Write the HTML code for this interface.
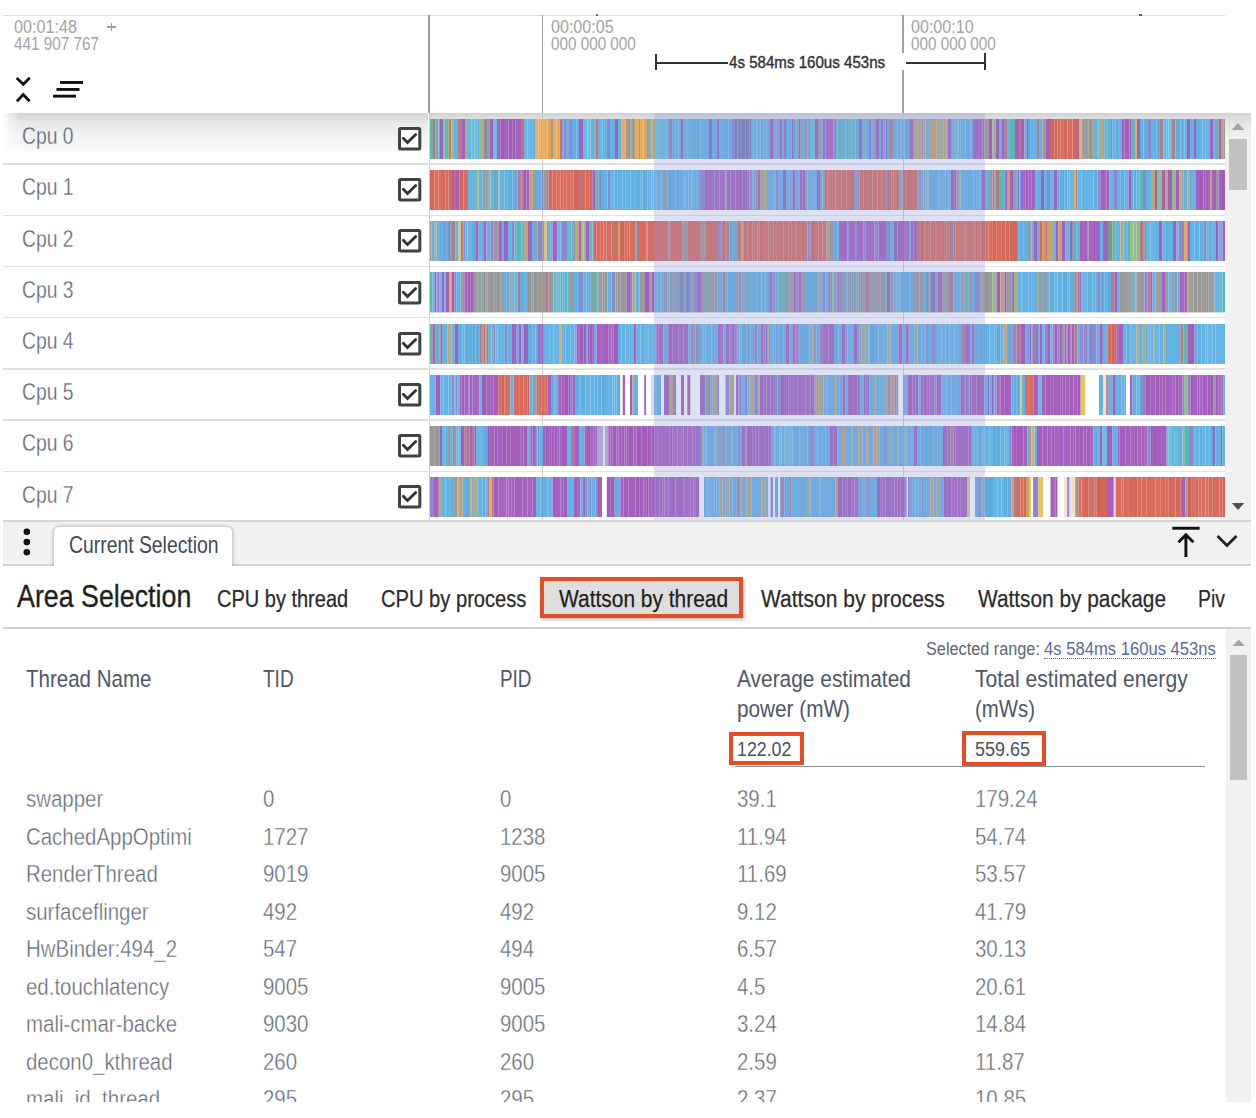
<!DOCTYPE html><html><head><meta charset="utf-8"><style>
html,body{margin:0;padding:0;background:#fff;width:1256px;height:1118px;overflow:hidden;position:relative}
.t{position:absolute;white-space:nowrap;line-height:1;font-family:"Liberation Sans",sans-serif;transform-origin:0 0}
.r{position:absolute}
</style></head><body>
<div class="r" style="left:3px;top:14.5px;width:1222px;height:1.0px;background:#dcdcdc;"></div>
<div class="r" style="left:427.5px;top:15px;width:2.0px;height:98px;background:#9a9a9a;"></div>
<div class="r" style="left:541.6px;top:15px;width:1.3999999999999773px;height:98px;background:#a0a0a0;"></div>
<div class="r" style="left:902.3px;top:15px;width:1.400000000000091px;height:38px;background:#a0a0a0;"></div>
<div class="r" style="left:902.3px;top:70px;width:1.400000000000091px;height:43px;background:#a0a0a0;"></div>
<div class="r" style="left:596px;top:13.5px;width:2px;height:2.0px;background:#666;"></div>
<div class="r" style="left:1139px;top:13.5px;width:2.5px;height:2.0px;background:#666;"></div>
<div class="t" style="left:14.00px;top:16.69px;font-size:19.19px;color:#a3a3a3;transform:scaleX(0.8428);">00:01:48</div>
<div class="t" style="left:14.00px;top:34.94px;font-size:18.90px;color:#a3a3a3;transform:scaleX(0.8088);">441 907 767</div>
<div class="r" style="left:107.4px;top:26.4px;width:8.199999999999989px;height:1.6000000000000014px;background:#9c9c9c;"></div>
<div class="r" style="left:110.7px;top:22.9px;width:1.5999999999999943px;height:8.600000000000001px;background:#9c9c9c;"></div>
<div class="t" style="left:551.00px;top:16.69px;font-size:19.19px;color:#a3a3a3;transform:scaleX(0.8388);">00:00:05</div>
<div class="t" style="left:551.00px;top:35.23px;font-size:18.31px;color:#a3a3a3;transform:scaleX(0.8334);">000 000 000</div>
<div class="t" style="left:911.20px;top:16.69px;font-size:19.19px;color:#a3a3a3;transform:scaleX(0.8388);">00:00:10</div>
<div class="t" style="left:911.20px;top:35.23px;font-size:18.31px;color:#a3a3a3;transform:scaleX(0.8334);">000 000 000</div>
<div class="r" style="left:654.5px;top:54px;width:2.0px;height:16px;background:#333;"></div>
<div class="r" style="left:655px;top:62.3px;width:72.5px;height:1.5px;background:#333;"></div>
<div class="r" style="left:906px;top:62.3px;width:79px;height:1.5px;background:#333;"></div>
<div class="r" style="left:984px;top:53px;width:2px;height:17px;background:#333;"></div>
<div class="t" style="left:729.30px;top:53.96px;font-size:16.28px;color:#333;transform:scaleX(0.9285);-webkit-text-stroke:0.4px #333;">4s 584ms 160us 453ns</div>
<svg class="r" style="left:0;top:0" width="100" height="113" viewBox="0 0 100 113">
<path d="M16.7 78 L23.3 84.3 L29.8 77.7" fill="none" stroke="#111" stroke-width="2.8"/>
<path d="M16.9 101.2 L23.3 94.6 L29.6 101.2" fill="none" stroke="#111" stroke-width="2.8"/>
<rect x="60" y="81" width="23" height="2.9" fill="#111"/>
<rect x="56.5" y="88" width="23" height="2.9" fill="#111"/>
<rect x="53" y="94.7" width="23" height="2.9" fill="#111"/>
</svg>
<div class="r" style="left:3px;top:113px;width:425px;height:38px;background:linear-gradient(#d2d3d6 0px,#e6e7e9 10px,#f3f3f4 24px,#fafafa 38px);"></div>
<div class="r" style="left:3px;top:113px;width:17px;height:38px;background:linear-gradient(90deg,rgba(255,255,255,0.85),rgba(255,255,255,0));"></div>
<div class="r" style="left:3px;top:163.4px;width:425px;height:1.4000000000000057px;background:#dedede;"></div>
<div class="t" style="left:21.50px;top:124.20px;font-size:24.71px;color:#5f6875;transform:scaleX(0.7815);-webkit-text-stroke:0.3px #eeeff0;">Cpu 0</div>
<svg class="r" style="left:398.2px;top:127.0px" width="24" height="24" viewBox="0 0 24 24"><rect x="1.5" y="1.5" width="20.3" height="20.5" rx="1" fill="#fff" stroke="#424242" stroke-width="3"/><path d="M5.3 11.3 L9.5 15.5 L17.7 7.6" fill="none" stroke="#333" stroke-width="2.8" stroke-linecap="round"/></svg>
<div class="r" style="left:3px;top:214.6px;width:425px;height:1.4000000000000057px;background:#dedede;"></div>
<div class="t" style="left:21.50px;top:175.40px;font-size:24.71px;color:#5f6875;transform:scaleX(0.7815);-webkit-text-stroke:0.3px #fff;">Cpu 1</div>
<svg class="r" style="left:398.2px;top:178.2px" width="24" height="24" viewBox="0 0 24 24"><rect x="1.5" y="1.5" width="20.3" height="20.5" rx="1" fill="#fff" stroke="#424242" stroke-width="3"/><path d="M5.3 11.3 L9.5 15.5 L17.7 7.6" fill="none" stroke="#333" stroke-width="2.8" stroke-linecap="round"/></svg>
<div class="r" style="left:3px;top:265.79999999999995px;width:425px;height:1.400000000000034px;background:#dedede;"></div>
<div class="t" style="left:21.50px;top:226.60px;font-size:24.71px;color:#5f6875;transform:scaleX(0.7815);-webkit-text-stroke:0.3px #fff;">Cpu 2</div>
<svg class="r" style="left:398.2px;top:229.4px" width="24" height="24" viewBox="0 0 24 24"><rect x="1.5" y="1.5" width="20.3" height="20.5" rx="1" fill="#fff" stroke="#424242" stroke-width="3"/><path d="M5.3 11.3 L9.5 15.5 L17.7 7.6" fill="none" stroke="#333" stroke-width="2.8" stroke-linecap="round"/></svg>
<div class="r" style="left:3px;top:317.0px;width:425px;height:1.400000000000034px;background:#dedede;"></div>
<div class="t" style="left:21.50px;top:277.80px;font-size:24.71px;color:#5f6875;transform:scaleX(0.7815);-webkit-text-stroke:0.3px #fff;">Cpu 3</div>
<svg class="r" style="left:398.2px;top:280.6px" width="24" height="24" viewBox="0 0 24 24"><rect x="1.5" y="1.5" width="20.3" height="20.5" rx="1" fill="#fff" stroke="#424242" stroke-width="3"/><path d="M5.3 11.3 L9.5 15.5 L17.7 7.6" fill="none" stroke="#333" stroke-width="2.8" stroke-linecap="round"/></svg>
<div class="r" style="left:3px;top:368.2px;width:425px;height:1.400000000000034px;background:#dedede;"></div>
<div class="t" style="left:21.50px;top:329.00px;font-size:24.71px;color:#5f6875;transform:scaleX(0.7815);-webkit-text-stroke:0.3px #fff;">Cpu 4</div>
<svg class="r" style="left:398.2px;top:331.8px" width="24" height="24" viewBox="0 0 24 24"><rect x="1.5" y="1.5" width="20.3" height="20.5" rx="1" fill="#fff" stroke="#424242" stroke-width="3"/><path d="M5.3 11.3 L9.5 15.5 L17.7 7.6" fill="none" stroke="#333" stroke-width="2.8" stroke-linecap="round"/></svg>
<div class="r" style="left:3px;top:419.4px;width:425px;height:1.400000000000034px;background:#dedede;"></div>
<div class="t" style="left:21.50px;top:380.20px;font-size:24.71px;color:#5f6875;transform:scaleX(0.7815);-webkit-text-stroke:0.3px #fff;">Cpu 5</div>
<svg class="r" style="left:398.2px;top:383.0px" width="24" height="24" viewBox="0 0 24 24"><rect x="1.5" y="1.5" width="20.3" height="20.5" rx="1" fill="#fff" stroke="#424242" stroke-width="3"/><path d="M5.3 11.3 L9.5 15.5 L17.7 7.6" fill="none" stroke="#333" stroke-width="2.8" stroke-linecap="round"/></svg>
<div class="r" style="left:3px;top:470.6px;width:425px;height:1.400000000000034px;background:#dedede;"></div>
<div class="t" style="left:21.50px;top:431.40px;font-size:24.71px;color:#5f6875;transform:scaleX(0.7815);-webkit-text-stroke:0.3px #fff;">Cpu 6</div>
<svg class="r" style="left:398.2px;top:434.20000000000005px" width="24" height="24" viewBox="0 0 24 24"><rect x="1.5" y="1.5" width="20.3" height="20.5" rx="1" fill="#fff" stroke="#424242" stroke-width="3"/><path d="M5.3 11.3 L9.5 15.5 L17.7 7.6" fill="none" stroke="#333" stroke-width="2.8" stroke-linecap="round"/></svg>
<div class="t" style="left:21.50px;top:482.60px;font-size:24.71px;color:#5f6875;transform:scaleX(0.7815);-webkit-text-stroke:0.3px #fff;">Cpu 7</div>
<svg class="r" style="left:398.2px;top:485.40000000000003px" width="24" height="24" viewBox="0 0 24 24"><rect x="1.5" y="1.5" width="20.3" height="20.5" rx="1" fill="#fff" stroke="#424242" stroke-width="3"/><path d="M5.3 11.3 L9.5 15.5 L17.7 7.6" fill="none" stroke="#333" stroke-width="2.8" stroke-linecap="round"/></svg>
<div class="r" style="left:429.5px;top:113px;width:795.5px;height:407px;background:#fff;"></div>
<div class="r" style="left:429.5px;top:113px;width:795.5px;height:5.700000000000003px;background:linear-gradient(#d0d1d4,#dedfe1);"></div>
<div class="r" style="left:429.5px;top:163.4px;width:795.5px;height:1.4000000000000057px;background:#e2e2e2;"></div>
<div class="r" style="left:429.5px;top:214.6px;width:795.5px;height:1.4000000000000057px;background:#e2e2e2;"></div>
<div class="r" style="left:429.5px;top:265.79999999999995px;width:795.5px;height:1.400000000000034px;background:#e2e2e2;"></div>
<div class="r" style="left:429.5px;top:317.0px;width:795.5px;height:1.400000000000034px;background:#e2e2e2;"></div>
<div class="r" style="left:429.5px;top:368.2px;width:795.5px;height:1.400000000000034px;background:#e2e2e2;"></div>
<div class="r" style="left:429.5px;top:419.4px;width:795.5px;height:1.400000000000034px;background:#e2e2e2;"></div>
<div class="r" style="left:429.5px;top:470.6px;width:795.5px;height:1.400000000000034px;background:#e2e2e2;"></div>
<div class="r" style="left:428.6px;top:113px;width:1.0px;height:407px;background:#c8cee0;"></div>
<div class="r" style="left:541.8px;top:113px;width:1.0px;height:407px;background:#cdcdcd;"></div>
<div class="r" style="left:902.5px;top:113px;width:1.0px;height:407px;background:#cdcdcd;"></div>
<svg class="r" style="left:430px;top:118.70px" width="795" height="40.4"><rect x="0.00" width="3.00" height="40.4" fill="#5db9b0"/><rect x="3.00" width="2.50" height="40.4" fill="#d86b5c"/><rect x="5.50" width="2.94" height="40.4" fill="#5db9b0"/><rect x="8.44" width="1.56" height="40.4" fill="#63b3e5"/><rect x="10.00" width="3.00" height="40.4" fill="#a55fbf"/><rect x="13.00" width="1.73" height="40.4" fill="#92be8c"/><rect x="14.73" width="3.21" height="40.4" fill="#5db9b0"/><rect x="17.94" width="1.06" height="40.4" fill="#92be8c"/><rect x="19.00" width="2.50" height="40.4" fill="#d86b5c"/><rect x="21.50" width="2.50" height="40.4" fill="#92be8c"/><rect x="24.00" width="4.00" height="40.4" fill="#63b3e5"/><rect x="28.00" width="4.00" height="40.4" fill="#b07c8a"/><rect x="32.00" width="3.00" height="40.4" fill="#a55fbf"/><rect x="35.00" width="3.00" height="40.4" fill="#b4aa7a"/><rect x="38.00" width="3.56" height="40.4" fill="#63b3e5"/><rect x="41.56" width="1.36" height="40.4" fill="#69bfe2"/><rect x="42.93" width="1.68" height="40.4" fill="#63b3e5"/><rect x="44.61" width="3.33" height="40.4" fill="#69bfe2"/><rect x="47.94" width="1.06" height="40.4" fill="#63b3e5"/><rect x="49.00" width="5.00" height="40.4" fill="#92be8c"/><rect x="54.00" width="3.00" height="40.4" fill="#b07c8a"/><rect x="57.00" width="3.00" height="40.4" fill="#5db9b0"/><rect x="60.00" width="3.00" height="40.4" fill="#a55fbf"/><rect x="63.00" width="4.00" height="40.4" fill="#69bfe2"/><rect x="67.00" width="3.61" height="40.4" fill="#a661c0"/><rect x="70.61" width="4.31" height="40.4" fill="#a15dba"/><rect x="74.92" width="3.63" height="40.4" fill="#a763c1"/><rect x="78.55" width="4.11" height="40.4" fill="#a25dbb"/><rect x="82.67" width="2.86" height="40.4" fill="#9e5bb7"/><rect x="85.53" width="5.47" height="40.4" fill="#a660bf"/><rect x="91.00" width="3.00" height="40.4" fill="#d86b5c"/><rect x="94.00" width="3.56" height="40.4" fill="#66b4e5"/><rect x="97.56" width="2.36" height="40.4" fill="#67b5e6"/><rect x="99.91" width="3.14" height="40.4" fill="#68b6e6"/><rect x="103.06" width="1.94" height="40.4" fill="#62b1e2"/><rect x="105.00" width="3.46" height="40.4" fill="#e9ad62"/><rect x="108.46" width="2.36" height="40.4" fill="#e5a85b"/><rect x="110.82" width="3.10" height="40.4" fill="#e8aa5d"/><rect x="113.92" width="3.41" height="40.4" fill="#e9ad61"/><rect x="117.33" width="3.67" height="40.4" fill="#e0a459"/><rect x="121.00" width="2.00" height="40.4" fill="#9b9b9b"/><rect x="123.00" width="3.35" height="40.4" fill="#e8ab5e"/><rect x="126.35" width="3.65" height="40.4" fill="#e8ac5f"/><rect x="130.00" width="2.00" height="40.4" fill="#d86b5c"/><rect x="132.00" width="1.65" height="40.4" fill="#63b3e5"/><rect x="133.65" width="3.21" height="40.4" fill="#8d87cf"/><rect x="136.86" width="2.26" height="40.4" fill="#63b3e5"/><rect x="139.13" width="2.87" height="40.4" fill="#8d87cf"/><rect x="142.00" width="4.70" height="40.4" fill="#62b1e3"/><rect x="146.70" width="2.30" height="40.4" fill="#61afe0"/><rect x="149.00" width="4.00" height="40.4" fill="#a55fbf"/><rect x="153.00" width="4.47" height="40.4" fill="#67bcde"/><rect x="157.47" width="2.90" height="40.4" fill="#6dc1e3"/><rect x="160.37" width="5.23" height="40.4" fill="#65b7d9"/><rect x="165.60" width="2.40" height="40.4" fill="#d86b5c"/><rect x="168.00" width="4.64" height="40.4" fill="#65b4e5"/><rect x="172.64" width="2.30" height="40.4" fill="#62b1e3"/><rect x="174.94" width="2.06" height="40.4" fill="#62b1e2"/><rect x="177.00" width="3.00" height="40.4" fill="#8d87cf"/><rect x="180.00" width="5.00" height="40.4" fill="#63b3e5"/><rect x="185.00" width="3.00" height="40.4" fill="#a55fbf"/><rect x="188.00" width="3.00" height="40.4" fill="#63b3e5"/><rect x="191.00" width="4.64" height="40.4" fill="#e8aa5c"/><rect x="195.64" width="4.36" height="40.4" fill="#9b9b9b"/><rect x="200.00" width="2.00" height="40.4" fill="#b4aa7a"/><rect x="202.00" width="3.00" height="40.4" fill="#9b9b9b"/><rect x="205.00" width="4.00" height="40.4" fill="#e8aa5c"/><rect x="209.00" width="1.00" height="40.4" fill="#9b9b9b"/><rect x="210.00" width="3.65" height="40.4" fill="#e9ad62"/><rect x="213.65" width="3.35" height="40.4" fill="#e1a559"/><rect x="217.00" width="2.00" height="40.4" fill="#63b3e5"/><rect x="219.00" width="2.63" height="40.4" fill="#aea476"/><rect x="221.63" width="3.37" height="40.4" fill="#b5ab7c"/><rect x="225.00" width="3.10" height="40.4" fill="#6dc1e3"/><rect x="228.10" width="4.93" height="40.4" fill="#67bbde"/><rect x="233.03" width="2.05" height="40.4" fill="#65b8d9"/><rect x="235.08" width="3.92" height="40.4" fill="#6cc0e2"/><rect x="239.00" width="3.00" height="40.4" fill="#b07c8a"/><rect x="242.00" width="3.83" height="40.4" fill="#63b3e5"/><rect x="245.83" width="2.70" height="40.4" fill="#60aedf"/><rect x="248.53" width="2.47" height="40.4" fill="#63b3e5"/><rect x="251.00" width="2.00" height="40.4" fill="#a55fbf"/><rect x="253.00" width="4.11" height="40.4" fill="#68b5e6"/><rect x="257.11" width="3.96" height="40.4" fill="#67b5e6"/><rect x="261.07" width="4.98" height="40.4" fill="#62b2e4"/><rect x="266.05" width="4.24" height="40.4" fill="#60addd"/><rect x="270.29" width="4.77" height="40.4" fill="#62b1e3"/><rect x="275.06" width="3.94" height="40.4" fill="#63b2e4"/><rect x="279.00" width="3.00" height="40.4" fill="#a55fbf"/><rect x="282.00" width="5.00" height="40.4" fill="#63b3e5"/><rect x="287.00" width="2.00" height="40.4" fill="#a55fbf"/><rect x="289.00" width="2.83" height="40.4" fill="#64b4e5"/><rect x="291.83" width="2.07" height="40.4" fill="#60adde"/><rect x="293.91" width="4.65" height="40.4" fill="#61b0e1"/><rect x="298.55" width="3.45" height="40.4" fill="#61afe0"/><rect x="302.00" width="3.00" height="40.4" fill="#8d87cf"/><rect x="305.00" width="2.67" height="40.4" fill="#737aab"/><rect x="307.67" width="4.29" height="40.4" fill="#797fb1"/><rect x="311.96" width="3.82" height="40.4" fill="#7278a9"/><rect x="315.78" width="3.50" height="40.4" fill="#757cae"/><rect x="319.28" width="1.72" height="40.4" fill="#777eb0"/><rect x="321.00" width="2.46" height="40.4" fill="#65b4e5"/><rect x="323.46" width="3.14" height="40.4" fill="#62b2e3"/><rect x="326.59" width="3.81" height="40.4" fill="#67b5e6"/><rect x="330.40" width="3.03" height="40.4" fill="#61afe0"/><rect x="333.43" width="3.21" height="40.4" fill="#61b0e1"/><rect x="336.64" width="3.36" height="40.4" fill="#62b2e3"/><rect x="340.00" width="3.00" height="40.4" fill="#a55fbf"/><rect x="343.00" width="2.03" height="40.4" fill="#63b3e5"/><rect x="345.03" width="1.46" height="40.4" fill="#b4aa7a"/><rect x="346.49" width="1.20" height="40.4" fill="#a55fbf"/><rect x="347.69" width="1.86" height="40.4" fill="#63b3e5"/><rect x="349.55" width="2.48" height="40.4" fill="#a55fbf"/><rect x="352.03" width="2.13" height="40.4" fill="#63b3e5"/><rect x="354.15" width="1.85" height="40.4" fill="#a55fbf"/><rect x="356.01" width="5.64" height="40.4" fill="#63b3e5"/><rect x="361.65" width="2.21" height="40.4" fill="#a55fbf"/><rect x="363.85" width="2.56" height="40.4" fill="#63b3e5"/><rect x="366.41" width="2.12" height="40.4" fill="#5db9b0"/><rect x="368.53" width="2.13" height="40.4" fill="#a55fbf"/><rect x="370.66" width="2.24" height="40.4" fill="#5db9b0"/><rect x="372.90" width="3.27" height="40.4" fill="#63b3e5"/><rect x="376.17" width="1.14" height="40.4" fill="#a55fbf"/><rect x="377.31" width="1.73" height="40.4" fill="#5db9b0"/><rect x="379.04" width="2.70" height="40.4" fill="#63b3e5"/><rect x="381.74" width="1.74" height="40.4" fill="#5db9b0"/><rect x="383.48" width="1.52" height="40.4" fill="#63b3e5"/><rect x="385.00" width="3.00" height="40.4" fill="#a55fbf"/><rect x="388.00" width="3.24" height="40.4" fill="#9b9b9b"/><rect x="391.24" width="1.76" height="40.4" fill="#63b3e5"/><rect x="393.00" width="2.57" height="40.4" fill="#a763c1"/><rect x="395.57" width="4.43" height="40.4" fill="#a661c0"/><rect x="400.00" width="3.20" height="40.4" fill="#a55fbf"/><rect x="403.20" width="1.10" height="40.4" fill="#8d87cf"/><rect x="404.30" width="1.70" height="40.4" fill="#a55fbf"/><rect x="406.00" width="1.66" height="40.4" fill="#63b3e5"/><rect x="407.66" width="4.29" height="40.4" fill="#5db9b0"/><rect x="411.95" width="3.53" height="40.4" fill="#63b3e5"/><rect x="415.49" width="3.39" height="40.4" fill="#5db9b0"/><rect x="418.87" width="2.87" height="40.4" fill="#63b3e5"/><rect x="421.75" width="1.33" height="40.4" fill="#5db9b0"/><rect x="423.08" width="2.43" height="40.4" fill="#63b3e5"/><rect x="425.51" width="1.50" height="40.4" fill="#5db9b0"/><rect x="427.01" width="1.99" height="40.4" fill="#63b3e5"/><rect x="429.00" width="3.00" height="40.4" fill="#a55fbf"/><rect x="432.00" width="1.85" height="40.4" fill="#63b3e5"/><rect x="433.85" width="1.70" height="40.4" fill="#5db9b0"/><rect x="435.54" width="3.58" height="40.4" fill="#63b3e5"/><rect x="439.12" width="2.45" height="40.4" fill="#a55fbf"/><rect x="441.58" width="2.33" height="40.4" fill="#63b3e5"/><rect x="443.91" width="2.09" height="40.4" fill="#5db9b0"/><rect x="446.00" width="3.00" height="40.4" fill="#a55fbf"/><rect x="449.00" width="1.99" height="40.4" fill="#63b3e5"/><rect x="450.99" width="2.09" height="40.4" fill="#a55fbf"/><rect x="453.08" width="2.49" height="40.4" fill="#63b3e5"/><rect x="455.57" width="2.18" height="40.4" fill="#a55fbf"/><rect x="457.75" width="1.25" height="40.4" fill="#63b3e5"/><rect x="459.00" width="4.00" height="40.4" fill="#b07c8a"/><rect x="463.00" width="4.54" height="40.4" fill="#65b4e5"/><rect x="467.54" width="3.25" height="40.4" fill="#60aedf"/><rect x="470.79" width="3.62" height="40.4" fill="#67b5e6"/><rect x="474.41" width="5.59" height="40.4" fill="#60adde"/><rect x="480.00" width="3.00" height="40.4" fill="#a55fbf"/><rect x="483.00" width="4.05" height="40.4" fill="#b2a878"/><rect x="487.05" width="1.95" height="40.4" fill="#b5ab7c"/><rect x="489.00" width="2.75" height="40.4" fill="#c9a06c"/><rect x="491.75" width="1.54" height="40.4" fill="#8d87cf"/><rect x="493.28" width="2.22" height="40.4" fill="#c9a06c"/><rect x="495.50" width="3.50" height="40.4" fill="#63b3e5"/><rect x="499.00" width="7.34" height="40.4" fill="#c89f6b"/><rect x="506.34" width="1.66" height="40.4" fill="#cba371"/><rect x="508.00" width="2.29" height="40.4" fill="#b4aa7a"/><rect x="510.29" width="1.60" height="40.4" fill="#5db9b0"/><rect x="511.89" width="1.50" height="40.4" fill="#c9a06c"/><rect x="513.39" width="1.67" height="40.4" fill="#b4aa7a"/><rect x="515.06" width="1.61" height="40.4" fill="#c9a06c"/><rect x="516.67" width="1.33" height="40.4" fill="#b4aa7a"/><rect x="518.00" width="3.00" height="40.4" fill="#a55fbf"/><rect x="521.00" width="2.10" height="40.4" fill="#63b3e5"/><rect x="523.10" width="2.58" height="40.4" fill="#5db9b0"/><rect x="525.68" width="1.71" height="40.4" fill="#63b3e5"/><rect x="527.39" width="1.27" height="40.4" fill="#5db9b0"/><rect x="528.66" width="1.96" height="40.4" fill="#63b3e5"/><rect x="530.62" width="1.38" height="40.4" fill="#5db9b0"/><rect x="532.00" width="3.68" height="40.4" fill="#64b3e5"/><rect x="535.68" width="4.57" height="40.4" fill="#61afe0"/><rect x="540.25" width="2.75" height="40.4" fill="#64b3e5"/><rect x="543.00" width="4.99" height="40.4" fill="#a661c0"/><rect x="547.99" width="4.42" height="40.4" fill="#a762c0"/><rect x="552.41" width="2.09" height="40.4" fill="#a661c0"/><rect x="554.50" width="4.50" height="40.4" fill="#9b9b9b"/><rect x="559.00" width="3.50" height="40.4" fill="#a55fbf"/><rect x="562.50" width="3.50" height="40.4" fill="#92be8c"/><rect x="566.00" width="3.00" height="40.4" fill="#a55fbf"/><rect x="569.00" width="3.00" height="40.4" fill="#63b3e5"/><rect x="572.00" width="2.75" height="40.4" fill="#a55fbf"/><rect x="574.75" width="2.25" height="40.4" fill="#b07c8a"/><rect x="577.00" width="3.00" height="40.4" fill="#63b3e5"/><rect x="580.00" width="5.00" height="40.4" fill="#5db9b0"/><rect x="585.00" width="4.00" height="40.4" fill="#a55fbf"/><rect x="589.00" width="2.00" height="40.4" fill="#b07c8a"/><rect x="591.00" width="3.19" height="40.4" fill="#a55fbf"/><rect x="594.19" width="2.22" height="40.4" fill="#63b3e5"/><rect x="596.41" width="1.59" height="40.4" fill="#a55fbf"/><rect x="598.00" width="2.93" height="40.4" fill="#60aedf"/><rect x="600.93" width="6.07" height="40.4" fill="#67b5e6"/><rect x="607.00" width="2.00" height="40.4" fill="#b07c8a"/><rect x="609.00" width="3.31" height="40.4" fill="#63b3e5"/><rect x="612.31" width="3.69" height="40.4" fill="#9b9b9b"/><rect x="616.00" width="4.00" height="40.4" fill="#a55fbf"/><rect x="620.00" width="4.36" height="40.4" fill="#d16859"/><rect x="624.36" width="3.01" height="40.4" fill="#d3685a"/><rect x="627.37" width="3.03" height="40.4" fill="#d3695a"/><rect x="630.40" width="3.49" height="40.4" fill="#d76b5c"/><rect x="633.89" width="3.73" height="40.4" fill="#d2685a"/><rect x="637.62" width="4.93" height="40.4" fill="#d86b5c"/><rect x="642.55" width="4.45" height="40.4" fill="#d2685a"/><rect x="647.00" width="2.00" height="40.4" fill="#a55fbf"/><rect x="649.00" width="2.50" height="40.4" fill="#e8aa5c"/><rect x="651.50" width="6.87" height="40.4" fill="#9d9d9d"/><rect x="658.37" width="3.63" height="40.4" fill="#969696"/><rect x="662.00" width="2.00" height="40.4" fill="#c9a06c"/><rect x="664.00" width="4.37" height="40.4" fill="#66b5e6"/><rect x="668.37" width="1.63" height="40.4" fill="#65b4e5"/><rect x="670.00" width="3.00" height="40.4" fill="#b4aa7a"/><rect x="673.00" width="1.80" height="40.4" fill="#63b3e5"/><rect x="674.80" width="2.00" height="40.4" fill="#5db9b0"/><rect x="676.80" width="4.20" height="40.4" fill="#63b3e5"/><rect x="681.00" width="1.50" height="40.4" fill="#b07c8a"/><rect x="682.50" width="3.27" height="40.4" fill="#62b2e4"/><rect x="685.77" width="4.06" height="40.4" fill="#60aede"/><rect x="689.83" width="2.17" height="40.4" fill="#64b4e5"/><rect x="692.00" width="2.50" height="40.4" fill="#a35ebd"/><rect x="694.50" width="4.96" height="40.4" fill="#a45fbe"/><rect x="699.46" width="1.54" height="40.4" fill="#a55fbf"/><rect x="701.00" width="4.00" height="40.4" fill="#5db9b0"/><rect x="705.00" width="2.00" height="40.4" fill="#e8aa5c"/><rect x="707.00" width="3.00" height="40.4" fill="#a55fbf"/><rect x="710.00" width="3.50" height="40.4" fill="#61afe0"/><rect x="713.50" width="4.50" height="40.4" fill="#62b0e2"/><rect x="718.00" width="3.00" height="40.4" fill="#8d87cf"/><rect x="721.00" width="2.08" height="40.4" fill="#63b3e5"/><rect x="723.08" width="3.17" height="40.4" fill="#63b2e4"/><rect x="726.25" width="3.75" height="40.4" fill="#60aedf"/><rect x="730.00" width="3.50" height="40.4" fill="#b07c8a"/><rect x="733.50" width="2.60" height="40.4" fill="#66badc"/><rect x="736.10" width="2.43" height="40.4" fill="#6abfe2"/><rect x="738.53" width="3.47" height="40.4" fill="#6ec1e3"/><rect x="742.00" width="3.50" height="40.4" fill="#b07c8a"/><rect x="745.50" width="4.92" height="40.4" fill="#5faddd"/><rect x="750.42" width="4.26" height="40.4" fill="#62b2e3"/><rect x="754.68" width="2.32" height="40.4" fill="#65b4e5"/><rect x="757.00" width="3.00" height="40.4" fill="#a55fbf"/><rect x="760.00" width="4.00" height="40.4" fill="#63b3e5"/><rect x="764.00" width="2.00" height="40.4" fill="#a55fbf"/><rect x="766.00" width="4.08" height="40.4" fill="#61b0e1"/><rect x="770.08" width="2.53" height="40.4" fill="#60aedf"/><rect x="772.60" width="2.62" height="40.4" fill="#64b4e5"/><rect x="775.23" width="2.68" height="40.4" fill="#62b1e3"/><rect x="777.90" width="2.10" height="40.4" fill="#66b5e6"/><rect x="780.00" width="3.00" height="40.4" fill="#a55fbf"/><rect x="783.00" width="1.86" height="40.4" fill="#63b3e5"/><rect x="784.86" width="3.64" height="40.4" fill="#5db9b0"/><rect x="788.50" width="2.50" height="40.4" fill="#a55fbf"/><rect x="791.00" width="2.86" height="40.4" fill="#b4aa7a"/><rect x="793.86" width="1.14" height="40.4" fill="#9b9b9b"/></svg>
<svg class="r" style="left:430px;top:169.90px" width="795" height="40.4"><rect x="0.00" width="4.39" height="40.4" fill="#d06759"/><rect x="4.39" width="4.28" height="40.4" fill="#d96f60"/><rect x="8.67" width="2.27" height="40.4" fill="#d96f61"/><rect x="10.94" width="4.36" height="40.4" fill="#d66a5b"/><rect x="15.30" width="3.12" height="40.4" fill="#d86c5d"/><rect x="18.43" width="3.57" height="40.4" fill="#d86b5c"/><rect x="22.00" width="2.00" height="40.4" fill="#a55fbf"/><rect x="24.00" width="2.00" height="40.4" fill="#d86b5c"/><rect x="26.00" width="3.50" height="40.4" fill="#a55fbf"/><rect x="29.50" width="3.82" height="40.4" fill="#d06759"/><rect x="33.32" width="4.68" height="40.4" fill="#d96d5e"/><rect x="38.00" width="8.00" height="40.4" fill="#65b4e5"/><rect x="46.00" width="2.50" height="40.4" fill="#92be8c"/><rect x="48.50" width="4.00" height="40.4" fill="#63b3e5"/><rect x="52.50" width="2.50" height="40.4" fill="#9b9b9b"/><rect x="55.00" width="3.00" height="40.4" fill="#63b3e5"/><rect x="58.00" width="2.50" height="40.4" fill="#b4aa7a"/><rect x="60.50" width="3.51" height="40.4" fill="#67b5e6"/><rect x="64.01" width="4.49" height="40.4" fill="#5facdc"/><rect x="68.50" width="1.50" height="40.4" fill="#e8aa5c"/><rect x="70.00" width="4.63" height="40.4" fill="#64b4e5"/><rect x="74.63" width="3.22" height="40.4" fill="#60aede"/><rect x="77.85" width="4.59" height="40.4" fill="#61afe0"/><rect x="82.44" width="5.06" height="40.4" fill="#60addd"/><rect x="87.50" width="2.71" height="40.4" fill="#b07c8a"/><rect x="90.21" width="1.14" height="40.4" fill="#a55fbf"/><rect x="91.36" width="2.64" height="40.4" fill="#b07c8a"/><rect x="94.00" width="2.45" height="40.4" fill="#a05cb9"/><rect x="96.45" width="3.05" height="40.4" fill="#a45ebe"/><rect x="99.50" width="3.26" height="40.4" fill="#c9a06c"/><rect x="102.76" width="3.24" height="40.4" fill="#9b9b9b"/><rect x="106.00" width="5.50" height="40.4" fill="#61afe0"/><rect x="111.50" width="1.68" height="40.4" fill="#8d87cf"/><rect x="113.18" width="3.80" height="40.4" fill="#9b9b9b"/><rect x="116.97" width="1.63" height="40.4" fill="#8d87cf"/><rect x="118.60" width="3.84" height="40.4" fill="#d3695a"/><rect x="122.44" width="3.77" height="40.4" fill="#d76a5c"/><rect x="126.22" width="4.19" height="40.4" fill="#d96d5f"/><rect x="130.40" width="3.36" height="40.4" fill="#d86c5d"/><rect x="133.76" width="2.44" height="40.4" fill="#d96d5e"/><rect x="136.20" width="4.70" height="40.4" fill="#d96e60"/><rect x="140.90" width="2.78" height="40.4" fill="#d97062"/><rect x="143.68" width="5.32" height="40.4" fill="#d06759"/><rect x="149.00" width="2.00" height="40.4" fill="#b07c8a"/><rect x="151.00" width="4.34" height="40.4" fill="#d76b5c"/><rect x="155.34" width="4.49" height="40.4" fill="#d86b5c"/><rect x="159.83" width="2.57" height="40.4" fill="#d06759"/><rect x="162.40" width="3.20" height="40.4" fill="#a55fbf"/><rect x="165.60" width="3.20" height="40.4" fill="#5db9b0"/><rect x="168.80" width="2.20" height="40.4" fill="#8d87cf"/><rect x="171.00" width="2.98" height="40.4" fill="#61b0e1"/><rect x="173.98" width="3.52" height="40.4" fill="#63b2e4"/><rect x="177.50" width="2.50" height="40.4" fill="#8d87cf"/><rect x="180.00" width="4.41" height="40.4" fill="#66b5e6"/><rect x="184.41" width="3.47" height="40.4" fill="#61b0e1"/><rect x="187.88" width="4.60" height="40.4" fill="#62b0e2"/><rect x="192.48" width="2.65" height="40.4" fill="#60adde"/><rect x="195.13" width="2.93" height="40.4" fill="#63b3e4"/><rect x="198.05" width="2.22" height="40.4" fill="#61afe0"/><rect x="200.27" width="4.85" height="40.4" fill="#63b3e5"/><rect x="205.13" width="4.96" height="40.4" fill="#61b0e1"/><rect x="210.09" width="2.33" height="40.4" fill="#67b5e6"/><rect x="212.42" width="4.79" height="40.4" fill="#60addd"/><rect x="217.20" width="4.17" height="40.4" fill="#65b4e5"/><rect x="221.38" width="2.19" height="40.4" fill="#63b3e5"/><rect x="223.57" width="3.21" height="40.4" fill="#68b5e6"/><rect x="226.78" width="4.62" height="40.4" fill="#62b2e4"/><rect x="231.40" width="2.60" height="40.4" fill="#62b0e2"/><rect x="234.00" width="3.40" height="40.4" fill="#9b9b9b"/><rect x="237.40" width="3.59" height="40.4" fill="#5facdc"/><rect x="240.99" width="4.61" height="40.4" fill="#60addd"/><rect x="245.60" width="3.36" height="40.4" fill="#61afdf"/><rect x="248.95" width="4.25" height="40.4" fill="#64b4e5"/><rect x="253.20" width="2.45" height="40.4" fill="#64b3e5"/><rect x="255.65" width="3.00" height="40.4" fill="#65b4e5"/><rect x="258.65" width="2.90" height="40.4" fill="#68b5e6"/><rect x="261.55" width="2.23" height="40.4" fill="#66b4e5"/><rect x="263.78" width="2.35" height="40.4" fill="#61b0e1"/><rect x="266.13" width="3.87" height="40.4" fill="#65b4e5"/><rect x="270.00" width="5.00" height="40.4" fill="#8d87cf"/><rect x="275.00" width="2.09" height="40.4" fill="#a05cba"/><rect x="277.09" width="4.89" height="40.4" fill="#a45fbe"/><rect x="281.97" width="2.81" height="40.4" fill="#a865c1"/><rect x="284.78" width="4.61" height="40.4" fill="#a763c1"/><rect x="289.39" width="6.11" height="40.4" fill="#a864c1"/><rect x="295.50" width="1.50" height="40.4" fill="#9b9b9b"/><rect x="297.00" width="3.55" height="40.4" fill="#a35ebd"/><rect x="300.55" width="4.88" height="40.4" fill="#a55fbf"/><rect x="305.42" width="3.58" height="40.4" fill="#a45fbe"/><rect x="309.00" width="3.54" height="40.4" fill="#a15dba"/><rect x="312.54" width="2.45" height="40.4" fill="#9f5bb8"/><rect x="315.00" width="2.79" height="40.4" fill="#a661c0"/><rect x="317.79" width="1.61" height="40.4" fill="#a763c1"/><rect x="319.40" width="2.83" height="40.4" fill="#8d87cf"/><rect x="322.23" width="3.57" height="40.4" fill="#63b3e5"/><rect x="325.80" width="1.62" height="40.4" fill="#b07c8a"/><rect x="327.42" width="2.58" height="40.4" fill="#a55fbf"/><rect x="330.00" width="3.02" height="40.4" fill="#b4aa7a"/><rect x="333.02" width="1.29" height="40.4" fill="#9b9b9b"/><rect x="334.31" width="2.69" height="40.4" fill="#b4aa7a"/><rect x="337.00" width="2.05" height="40.4" fill="#61afe0"/><rect x="339.05" width="4.17" height="40.4" fill="#62b1e3"/><rect x="343.23" width="2.47" height="40.4" fill="#64b4e5"/><rect x="345.70" width="3.10" height="40.4" fill="#8d87cf"/><rect x="348.80" width="4.20" height="40.4" fill="#63b3e5"/><rect x="353.00" width="3.00" height="40.4" fill="#a55fbf"/><rect x="356.00" width="3.86" height="40.4" fill="#68b5e6"/><rect x="359.86" width="2.54" height="40.4" fill="#66b5e6"/><rect x="362.40" width="3.20" height="40.4" fill="#a55fbf"/><rect x="365.60" width="4.00" height="40.4" fill="#63b3e5"/><rect x="369.60" width="3.08" height="40.4" fill="#a45ebe"/><rect x="372.68" width="2.32" height="40.4" fill="#a15dbb"/><rect x="375.00" width="2.50" height="40.4" fill="#9b9b9b"/><rect x="377.50" width="7.28" height="40.4" fill="#67b5e6"/><rect x="384.78" width="2.22" height="40.4" fill="#64b4e5"/><rect x="387.00" width="3.00" height="40.4" fill="#a55fbf"/><rect x="390.00" width="2.50" height="40.4" fill="#63b3e5"/><rect x="392.50" width="2.50" height="40.4" fill="#9b9b9b"/><rect x="395.00" width="2.31" height="40.4" fill="#d16759"/><rect x="397.31" width="2.54" height="40.4" fill="#d96f60"/><rect x="399.84" width="3.06" height="40.4" fill="#d86b5c"/><rect x="402.90" width="2.55" height="40.4" fill="#d96f60"/><rect x="405.46" width="2.61" height="40.4" fill="#d96e5f"/><rect x="408.07" width="3.66" height="40.4" fill="#d4695a"/><rect x="411.73" width="2.28" height="40.4" fill="#d86c5d"/><rect x="414.01" width="2.55" height="40.4" fill="#d16759"/><rect x="416.55" width="3.45" height="40.4" fill="#d56a5b"/><rect x="420.01" width="3.99" height="40.4" fill="#d4695a"/><rect x="424.00" width="1.82" height="40.4" fill="#8d87cf"/><rect x="425.82" width="2.08" height="40.4" fill="#9b9b9b"/><rect x="427.90" width="1.60" height="40.4" fill="#8d87cf"/><rect x="429.50" width="3.69" height="40.4" fill="#d66a5b"/><rect x="433.19" width="2.79" height="40.4" fill="#d3685a"/><rect x="435.99" width="2.09" height="40.4" fill="#d76b5c"/><rect x="438.07" width="4.42" height="40.4" fill="#d16859"/><rect x="442.50" width="4.98" height="40.4" fill="#d96e5f"/><rect x="447.48" width="4.21" height="40.4" fill="#d5695b"/><rect x="451.69" width="3.31" height="40.4" fill="#d86c5d"/><rect x="455.00" width="3.00" height="40.4" fill="#8d87cf"/><rect x="458.00" width="3.48" height="40.4" fill="#d06758"/><rect x="461.48" width="2.23" height="40.4" fill="#d86c5d"/><rect x="463.71" width="2.23" height="40.4" fill="#d96f60"/><rect x="465.94" width="3.06" height="40.4" fill="#d96e60"/><rect x="469.00" width="3.50" height="40.4" fill="#63b3e5"/><rect x="472.50" width="3.74" height="40.4" fill="#d86c5d"/><rect x="476.24" width="3.76" height="40.4" fill="#d06758"/><rect x="480.00" width="3.86" height="40.4" fill="#d5695b"/><rect x="483.86" width="3.14" height="40.4" fill="#d66a5b"/><rect x="487.00" width="1.63" height="40.4" fill="#9b9b9b"/><rect x="488.63" width="2.50" height="40.4" fill="#8d87cf"/><rect x="491.13" width="2.30" height="40.4" fill="#63b3e5"/><rect x="493.43" width="2.07" height="40.4" fill="#9b9b9b"/><rect x="495.50" width="1.93" height="40.4" fill="#63b3e5"/><rect x="497.43" width="1.26" height="40.4" fill="#b4aa7a"/><rect x="498.69" width="3.31" height="40.4" fill="#63b3e5"/><rect x="502.00" width="6.73" height="40.4" fill="#61b0e1"/><rect x="508.73" width="6.86" height="40.4" fill="#68b5e6"/><rect x="515.59" width="2.80" height="40.4" fill="#62b2e4"/><rect x="518.39" width="2.61" height="40.4" fill="#67b5e6"/><rect x="521.00" width="3.20" height="40.4" fill="#a15dba"/><rect x="524.20" width="2.40" height="40.4" fill="#a45fbe"/><rect x="526.60" width="2.53" height="40.4" fill="#9b9b9b"/><rect x="529.13" width="1.47" height="40.4" fill="#b4aa7a"/><rect x="530.60" width="12.91" height="40.4" fill="#65b4e5"/><rect x="543.51" width="3.33" height="40.4" fill="#62b2e4"/><rect x="546.84" width="2.69" height="40.4" fill="#66b4e5"/><rect x="549.53" width="2.47" height="40.4" fill="#62b1e3"/><rect x="552.00" width="3.00" height="40.4" fill="#a55fbf"/><rect x="555.00" width="4.00" height="40.4" fill="#63b3e5"/><rect x="559.00" width="3.50" height="40.4" fill="#9b9b9b"/><rect x="562.50" width="1.69" height="40.4" fill="#b07c8a"/><rect x="564.19" width="1.67" height="40.4" fill="#9b9b9b"/><rect x="565.86" width="3.14" height="40.4" fill="#b07c8a"/><rect x="569.00" width="4.00" height="40.4" fill="#5db9b0"/><rect x="573.00" width="2.18" height="40.4" fill="#63b3e5"/><rect x="575.18" width="1.82" height="40.4" fill="#a55fbf"/><rect x="577.00" width="3.00" height="40.4" fill="#c9a06c"/><rect x="580.00" width="3.00" height="40.4" fill="#a55fbf"/><rect x="583.00" width="3.00" height="40.4" fill="#9b9b9b"/><rect x="586.00" width="1.68" height="40.4" fill="#63b3e5"/><rect x="587.68" width="1.71" height="40.4" fill="#a55fbf"/><rect x="589.40" width="1.60" height="40.4" fill="#63b3e5"/><rect x="591.00" width="2.11" height="40.4" fill="#a662c0"/><rect x="593.11" width="2.58" height="40.4" fill="#a661c0"/><rect x="595.69" width="2.66" height="40.4" fill="#a25dbb"/><rect x="598.35" width="3.32" height="40.4" fill="#a661c0"/><rect x="601.67" width="3.33" height="40.4" fill="#a45fbe"/><rect x="605.00" width="3.03" height="40.4" fill="#68b5e6"/><rect x="608.03" width="2.97" height="40.4" fill="#62b1e2"/><rect x="611.00" width="3.00" height="40.4" fill="#a55fbf"/><rect x="614.00" width="3.00" height="40.4" fill="#63b3e5"/><rect x="617.00" width="3.00" height="40.4" fill="#8d87cf"/><rect x="620.00" width="3.70" height="40.4" fill="#63b3e5"/><rect x="623.70" width="3.90" height="40.4" fill="#a55fbf"/><rect x="627.60" width="2.18" height="40.4" fill="#60addd"/><rect x="629.78" width="4.86" height="40.4" fill="#60adde"/><rect x="634.64" width="2.88" height="40.4" fill="#60aedf"/><rect x="637.53" width="2.09" height="40.4" fill="#63b3e5"/><rect x="639.62" width="4.38" height="40.4" fill="#68b6e6"/><rect x="644.00" width="1.76" height="40.4" fill="#e8aa5c"/><rect x="645.76" width="1.74" height="40.4" fill="#b07c8a"/><rect x="647.50" width="4.21" height="40.4" fill="#63b3e4"/><rect x="651.71" width="8.31" height="40.4" fill="#62b2e3"/><rect x="660.02" width="3.40" height="40.4" fill="#64b3e5"/><rect x="663.42" width="4.08" height="40.4" fill="#60aede"/><rect x="667.50" width="3.32" height="40.4" fill="#8d87cf"/><rect x="670.82" width="3.18" height="40.4" fill="#a55fbf"/><rect x="674.00" width="2.66" height="40.4" fill="#a763c0"/><rect x="676.66" width="2.74" height="40.4" fill="#a25dbb"/><rect x="679.40" width="4.60" height="40.4" fill="#63b3e5"/><rect x="684.00" width="3.00" height="40.4" fill="#8d87cf"/><rect x="687.00" width="3.26" height="40.4" fill="#63b3e5"/><rect x="690.26" width="4.36" height="40.4" fill="#60addd"/><rect x="694.62" width="3.88" height="40.4" fill="#63b2e4"/><rect x="698.50" width="2.50" height="40.4" fill="#a55fbf"/><rect x="701.00" width="2.39" height="40.4" fill="#60adde"/><rect x="703.39" width="3.25" height="40.4" fill="#61b0e1"/><rect x="706.64" width="2.96" height="40.4" fill="#63b3e5"/><rect x="709.60" width="3.40" height="40.4" fill="#5db9b0"/><rect x="713.00" width="3.00" height="40.4" fill="#8d87cf"/><rect x="716.00" width="5.00" height="40.4" fill="#63b3e5"/><rect x="721.00" width="4.00" height="40.4" fill="#b4aa7a"/><rect x="725.00" width="2.00" height="40.4" fill="#a55fbf"/><rect x="727.00" width="5.00" height="40.4" fill="#92be8c"/><rect x="732.00" width="3.00" height="40.4" fill="#a55fbf"/><rect x="735.00" width="3.00" height="40.4" fill="#b4aa7a"/><rect x="738.00" width="4.00" height="40.4" fill="#a55fbf"/><rect x="742.00" width="4.00" height="40.4" fill="#92be8c"/><rect x="746.00" width="3.50" height="40.4" fill="#a55fbf"/><rect x="749.50" width="1.93" height="40.4" fill="#b4aa7a"/><rect x="751.43" width="2.07" height="40.4" fill="#9b9b9b"/><rect x="753.50" width="3.90" height="40.4" fill="#63b3e5"/><rect x="757.40" width="2.60" height="40.4" fill="#b4aa7a"/><rect x="760.00" width="4.09" height="40.4" fill="#62b2e4"/><rect x="764.09" width="1.91" height="40.4" fill="#62b1e2"/><rect x="766.00" width="4.00" height="40.4" fill="#a55fbf"/><rect x="770.00" width="3.31" height="40.4" fill="#9f5bb8"/><rect x="773.31" width="2.50" height="40.4" fill="#a25dbc"/><rect x="775.81" width="2.20" height="40.4" fill="#a55fbf"/><rect x="778.01" width="1.99" height="40.4" fill="#a763c1"/><rect x="780.00" width="2.00" height="40.4" fill="#b4aa7a"/><rect x="782.00" width="4.00" height="40.4" fill="#a55fbf"/><rect x="786.00" width="2.50" height="40.4" fill="#9b9b9b"/><rect x="788.50" width="2.54" height="40.4" fill="#a762c0"/><rect x="791.04" width="3.96" height="40.4" fill="#a15cba"/></svg>
<svg class="r" style="left:430px;top:221.10px" width="795" height="40.4"><rect x="0.00" width="1.50" height="40.4" fill="#9b9b9b"/><rect x="1.50" width="2.64" height="40.4" fill="#63b3e5"/><rect x="4.14" width="2.44" height="40.4" fill="#b4aa7a"/><rect x="6.58" width="7.42" height="40.4" fill="#63b3e5"/><rect x="14.00" width="1.85" height="40.4" fill="#8d87cf"/><rect x="15.85" width="2.13" height="40.4" fill="#63b3e5"/><rect x="17.99" width="2.01" height="40.4" fill="#8d87cf"/><rect x="20.00" width="2.00" height="40.4" fill="#5db9b0"/><rect x="22.00" width="3.50" height="40.4" fill="#b07c8a"/><rect x="25.50" width="3.20" height="40.4" fill="#63b3e5"/><rect x="28.70" width="2.30" height="40.4" fill="#e6c45e"/><rect x="31.00" width="2.40" height="40.4" fill="#b07c8a"/><rect x="33.40" width="2.05" height="40.4" fill="#8d87cf"/><rect x="35.45" width="1.95" height="40.4" fill="#63b3e5"/><rect x="37.40" width="3.70" height="40.4" fill="#65b4e5"/><rect x="41.10" width="4.90" height="40.4" fill="#60aedf"/><rect x="46.00" width="2.60" height="40.4" fill="#a55fbf"/><rect x="48.60" width="3.40" height="40.4" fill="#64b4e5"/><rect x="52.00" width="2.00" height="40.4" fill="#61b0e1"/><rect x="54.00" width="2.50" height="40.4" fill="#a55fbf"/><rect x="56.50" width="4.00" height="40.4" fill="#63b3e5"/><rect x="60.50" width="3.20" height="40.4" fill="#8d87cf"/><rect x="63.70" width="4.80" height="40.4" fill="#9b9b9b"/><rect x="68.50" width="3.40" height="40.4" fill="#a55fbf"/><rect x="71.90" width="2.10" height="40.4" fill="#63b3e5"/><rect x="74.00" width="4.00" height="40.4" fill="#a55fbf"/><rect x="78.00" width="3.20" height="40.4" fill="#63b3e5"/><rect x="81.20" width="3.20" height="40.4" fill="#8d87cf"/><rect x="84.40" width="1.74" height="40.4" fill="#63b3e5"/><rect x="86.14" width="5.61" height="40.4" fill="#5db9b0"/><rect x="91.75" width="2.25" height="40.4" fill="#63b3e5"/><rect x="94.00" width="4.00" height="40.4" fill="#b4aa7a"/><rect x="98.00" width="4.00" height="40.4" fill="#a55fbf"/><rect x="102.00" width="3.00" height="40.4" fill="#63b3e5"/><rect x="105.00" width="2.65" height="40.4" fill="#9b9b9b"/><rect x="107.65" width="4.50" height="40.4" fill="#8d87cf"/><rect x="112.15" width="2.45" height="40.4" fill="#9b9b9b"/><rect x="114.60" width="2.40" height="40.4" fill="#e6c45e"/><rect x="117.00" width="2.14" height="40.4" fill="#63b3e5"/><rect x="119.14" width="1.10" height="40.4" fill="#8d87cf"/><rect x="120.24" width="2.36" height="40.4" fill="#63b3e5"/><rect x="122.60" width="4.80" height="40.4" fill="#a55fbf"/><rect x="127.40" width="3.24" height="40.4" fill="#63b3e5"/><rect x="130.64" width="1.36" height="40.4" fill="#5db9b0"/><rect x="132.00" width="5.00" height="40.4" fill="#8d87cf"/><rect x="137.00" width="2.08" height="40.4" fill="#63b3e5"/><rect x="139.08" width="2.27" height="40.4" fill="#5db9b0"/><rect x="141.34" width="1.66" height="40.4" fill="#63b3e5"/><rect x="143.00" width="2.87" height="40.4" fill="#9b9b9b"/><rect x="145.87" width="3.13" height="40.4" fill="#b4aa7a"/><rect x="149.00" width="2.30" height="40.4" fill="#a55fbf"/><rect x="151.30" width="2.16" height="40.4" fill="#b4aa7a"/><rect x="153.46" width="2.54" height="40.4" fill="#92be8c"/><rect x="156.00" width="3.00" height="40.4" fill="#a55fbf"/><rect x="159.00" width="3.49" height="40.4" fill="#63b3e5"/><rect x="162.49" width="1.51" height="40.4" fill="#5db9b0"/><rect x="164.00" width="2.45" height="40.4" fill="#d16759"/><rect x="166.45" width="3.73" height="40.4" fill="#d96d5e"/><rect x="170.18" width="3.24" height="40.4" fill="#d86b5c"/><rect x="173.43" width="1.57" height="40.4" fill="#d97061"/><rect x="175.00" width="1.50" height="40.4" fill="#b07c8a"/><rect x="176.50" width="5.00" height="40.4" fill="#d86b5c"/><rect x="181.50" width="1.50" height="40.4" fill="#b07c8a"/><rect x="183.00" width="5.00" height="40.4" fill="#d86b5c"/><rect x="188.00" width="1.50" height="40.4" fill="#b4aa7a"/><rect x="189.50" width="4.74" height="40.4" fill="#d06759"/><rect x="194.24" width="3.04" height="40.4" fill="#d96e60"/><rect x="197.28" width="2.26" height="40.4" fill="#d26859"/><rect x="199.54" width="5.46" height="40.4" fill="#d86c5d"/><rect x="205.00" width="2.00" height="40.4" fill="#63b3e5"/><rect x="207.00" width="9.62" height="40.4" fill="#d86b5c"/><rect x="216.62" width="1.05" height="40.4" fill="#b07c8a"/><rect x="217.67" width="20.45" height="40.4" fill="#d86b5c"/><rect x="238.12" width="2.13" height="40.4" fill="#9b9b9b"/><rect x="240.25" width="12.45" height="40.4" fill="#d86b5c"/><rect x="252.70" width="4.55" height="40.4" fill="#9b9b9b"/><rect x="257.24" width="13.64" height="40.4" fill="#d86b5c"/><rect x="270.88" width="4.37" height="40.4" fill="#9b9b9b"/><rect x="275.25" width="12.75" height="40.4" fill="#d86b5c"/><rect x="288.00" width="3.50" height="40.4" fill="#8d87cf"/><rect x="291.50" width="3.50" height="40.4" fill="#d86b5c"/><rect x="295.00" width="2.00" height="40.4" fill="#9b9b9b"/><rect x="297.00" width="2.50" height="40.4" fill="#d86b5c"/><rect x="299.50" width="3.34" height="40.4" fill="#5facdc"/><rect x="302.84" width="5.16" height="40.4" fill="#61b0e1"/><rect x="308.00" width="3.50" height="40.4" fill="#d86b5c"/><rect x="311.50" width="2.50" height="40.4" fill="#c9a06c"/><rect x="314.00" width="3.59" height="40.4" fill="#d16759"/><rect x="317.59" width="4.98" height="40.4" fill="#d86c5d"/><rect x="322.58" width="2.30" height="40.4" fill="#d56a5b"/><rect x="324.88" width="2.80" height="40.4" fill="#d96e5f"/><rect x="327.68" width="2.08" height="40.4" fill="#d97061"/><rect x="329.75" width="4.10" height="40.4" fill="#d16859"/><rect x="333.85" width="4.68" height="40.4" fill="#d97062"/><rect x="338.53" width="2.26" height="40.4" fill="#d06759"/><rect x="340.79" width="2.39" height="40.4" fill="#d96d5e"/><rect x="343.18" width="2.96" height="40.4" fill="#d96e60"/><rect x="346.14" width="3.92" height="40.4" fill="#d96f61"/><rect x="350.05" width="3.25" height="40.4" fill="#d86b5d"/><rect x="353.31" width="4.90" height="40.4" fill="#d96d5f"/><rect x="358.20" width="3.03" height="40.4" fill="#d86b5d"/><rect x="361.23" width="2.74" height="40.4" fill="#d86b5c"/><rect x="363.97" width="2.31" height="40.4" fill="#d97061"/><rect x="366.28" width="4.96" height="40.4" fill="#d86c5d"/><rect x="371.24" width="3.64" height="40.4" fill="#d3695a"/><rect x="374.88" width="2.62" height="40.4" fill="#d96e5f"/><rect x="377.50" width="3.20" height="40.4" fill="#8d87cf"/><rect x="380.70" width="4.26" height="40.4" fill="#d3685a"/><rect x="384.96" width="3.37" height="40.4" fill="#d97061"/><rect x="388.33" width="4.13" height="40.4" fill="#d86b5c"/><rect x="392.46" width="4.14" height="40.4" fill="#d97061"/><rect x="396.60" width="3.40" height="40.4" fill="#b4aa7a"/><rect x="400.00" width="3.00" height="40.4" fill="#9b9b9b"/><rect x="403.00" width="4.20" height="40.4" fill="#62b1e3"/><rect x="407.20" width="1.80" height="40.4" fill="#67b5e6"/><rect x="409.00" width="8.35" height="40.4" fill="#a55fbf"/><rect x="417.35" width="1.56" height="40.4" fill="#8d87cf"/><rect x="418.91" width="6.00" height="40.4" fill="#a55fbf"/><rect x="424.91" width="2.09" height="40.4" fill="#8d87cf"/><rect x="427.00" width="6.31" height="40.4" fill="#a55fbf"/><rect x="433.31" width="2.20" height="40.4" fill="#8d87cf"/><rect x="435.51" width="9.00" height="40.4" fill="#a55fbf"/><rect x="444.52" width="3.94" height="40.4" fill="#8d87cf"/><rect x="448.45" width="7.51" height="40.4" fill="#a55fbf"/><rect x="455.97" width="4.03" height="40.4" fill="#8d87cf"/><rect x="460.00" width="4.00" height="40.4" fill="#63b3e5"/><rect x="464.00" width="3.46" height="40.4" fill="#a05cb9"/><rect x="467.46" width="7.39" height="40.4" fill="#a25dbb"/><rect x="474.84" width="4.16" height="40.4" fill="#a864c1"/><rect x="479.00" width="2.00" height="40.4" fill="#63b3e5"/><rect x="481.00" width="2.54" height="40.4" fill="#9f5cb8"/><rect x="483.54" width="3.46" height="40.4" fill="#9f5bb8"/><rect x="487.00" width="3.98" height="40.4" fill="#d96f61"/><rect x="490.98" width="3.51" height="40.4" fill="#d26859"/><rect x="494.49" width="3.60" height="40.4" fill="#d86d5e"/><rect x="498.09" width="2.55" height="40.4" fill="#d96e60"/><rect x="500.64" width="4.51" height="40.4" fill="#d86b5c"/><rect x="505.15" width="3.84" height="40.4" fill="#d97062"/><rect x="508.98" width="2.14" height="40.4" fill="#d5695b"/><rect x="511.12" width="3.07" height="40.4" fill="#d3685a"/><rect x="514.19" width="2.11" height="40.4" fill="#d16859"/><rect x="516.30" width="4.70" height="40.4" fill="#d97062"/><rect x="521.00" width="2.40" height="40.4" fill="#6b88c8"/><rect x="523.40" width="2.19" height="40.4" fill="#d76a5b"/><rect x="525.59" width="4.45" height="40.4" fill="#d97061"/><rect x="530.04" width="4.34" height="40.4" fill="#d96d5f"/><rect x="534.38" width="2.44" height="40.4" fill="#d66a5b"/><rect x="536.82" width="6.32" height="40.4" fill="#d96f60"/><rect x="543.14" width="2.15" height="40.4" fill="#d97061"/><rect x="545.28" width="2.51" height="40.4" fill="#d4695a"/><rect x="547.80" width="2.61" height="40.4" fill="#d86c5d"/><rect x="550.40" width="4.74" height="40.4" fill="#d16859"/><rect x="555.14" width="3.18" height="40.4" fill="#d96f61"/><rect x="558.32" width="3.83" height="40.4" fill="#d96e60"/><rect x="562.16" width="4.57" height="40.4" fill="#d4695a"/><rect x="566.73" width="4.44" height="40.4" fill="#d86d5e"/><rect x="571.17" width="4.36" height="40.4" fill="#d3695a"/><rect x="575.53" width="3.94" height="40.4" fill="#d06758"/><rect x="579.47" width="2.59" height="40.4" fill="#cf6758"/><rect x="582.06" width="4.94" height="40.4" fill="#d16859"/><rect x="587.00" width="2.77" height="40.4" fill="#60aedf"/><rect x="589.77" width="3.40" height="40.4" fill="#62b0e2"/><rect x="593.16" width="4.84" height="40.4" fill="#62b1e2"/><rect x="598.00" width="3.40" height="40.4" fill="#9b9b9b"/><rect x="601.40" width="2.60" height="40.4" fill="#63b3e5"/><rect x="604.00" width="3.00" height="40.4" fill="#a55fbf"/><rect x="607.00" width="3.00" height="40.4" fill="#63b3e5"/><rect x="610.00" width="2.64" height="40.4" fill="#d86b5c"/><rect x="612.64" width="2.53" height="40.4" fill="#c9a06c"/><rect x="615.17" width="1.75" height="40.4" fill="#d86b5c"/><rect x="616.92" width="3.08" height="40.4" fill="#c9a06c"/><rect x="620.00" width="3.00" height="40.4" fill="#b4aa7a"/><rect x="623.00" width="3.00" height="40.4" fill="#63b3e5"/><rect x="626.00" width="2.40" height="40.4" fill="#a55fbf"/><rect x="628.40" width="3.20" height="40.4" fill="#c9a06c"/><rect x="631.60" width="4.00" height="40.4" fill="#a55fbf"/><rect x="635.60" width="4.00" height="40.4" fill="#63b3e5"/><rect x="639.60" width="3.20" height="40.4" fill="#a55fbf"/><rect x="642.80" width="3.90" height="40.4" fill="#5db9b0"/><rect x="646.70" width="3.30" height="40.4" fill="#63b3e5"/><rect x="650.00" width="3.09" height="40.4" fill="#a560bf"/><rect x="653.09" width="3.91" height="40.4" fill="#a661c0"/><rect x="657.00" width="1.70" height="40.4" fill="#9b9b9b"/><rect x="658.70" width="4.40" height="40.4" fill="#a864c1"/><rect x="663.10" width="2.79" height="40.4" fill="#9f5cb8"/><rect x="665.90" width="4.10" height="40.4" fill="#a660bf"/><rect x="670.00" width="3.00" height="40.4" fill="#63b3e5"/><rect x="673.00" width="5.00" height="40.4" fill="#a55fbf"/><rect x="678.00" width="4.60" height="40.4" fill="#7d9c80"/><rect x="682.60" width="2.63" height="40.4" fill="#5db9b0"/><rect x="685.23" width="5.27" height="40.4" fill="#63b3e5"/><rect x="690.50" width="3.20" height="40.4" fill="#c9a06c"/><rect x="693.70" width="3.51" height="40.4" fill="#63b3e5"/><rect x="697.21" width="2.79" height="40.4" fill="#5db9b0"/><rect x="700.00" width="3.38" height="40.4" fill="#95c08f"/><rect x="703.38" width="3.23" height="40.4" fill="#93be8d"/><rect x="706.61" width="3.39" height="40.4" fill="#90bb8a"/><rect x="710.00" width="3.07" height="40.4" fill="#b07c8a"/><rect x="713.07" width="1.20" height="40.4" fill="#9b9b9b"/><rect x="714.28" width="1.72" height="40.4" fill="#b07c8a"/><rect x="716.00" width="4.62" height="40.4" fill="#68b6e6"/><rect x="720.62" width="4.33" height="40.4" fill="#68b5e6"/><rect x="724.95" width="4.05" height="40.4" fill="#63b3e5"/><rect x="729.00" width="3.50" height="40.4" fill="#a55fbf"/><rect x="732.50" width="2.68" height="40.4" fill="#65b4e5"/><rect x="735.18" width="3.74" height="40.4" fill="#5facdc"/><rect x="738.91" width="4.09" height="40.4" fill="#62b2e4"/><rect x="743.00" width="3.30" height="40.4" fill="#a55fbf"/><rect x="746.30" width="2.21" height="40.4" fill="#63b3e5"/><rect x="748.51" width="5.49" height="40.4" fill="#8d87cf"/><rect x="754.00" width="3.40" height="40.4" fill="#e8aa5c"/><rect x="757.40" width="2.60" height="40.4" fill="#a55fbf"/><rect x="760.00" width="4.69" height="40.4" fill="#64b4e5"/><rect x="764.69" width="4.67" height="40.4" fill="#62b1e3"/><rect x="769.36" width="4.04" height="40.4" fill="#62b2e4"/><rect x="773.40" width="3.10" height="40.4" fill="#8d87cf"/><rect x="776.50" width="2.38" height="40.4" fill="#64b3e5"/><rect x="778.88" width="3.95" height="40.4" fill="#61afe0"/><rect x="782.83" width="3.17" height="40.4" fill="#65b4e5"/><rect x="786.00" width="2.50" height="40.4" fill="#a55fbf"/><rect x="788.50" width="4.00" height="40.4" fill="#63b3e5"/><rect x="792.50" width="2.50" height="40.4" fill="#a55fbf"/></svg>
<svg class="r" style="left:430px;top:272.30px" width="795" height="40.4"><rect x="0.00" width="2.40" height="40.4" fill="#5db9b0"/><rect x="2.40" width="2.32" height="40.4" fill="#63b3e5"/><rect x="4.72" width="1.71" height="40.4" fill="#a55fbf"/><rect x="6.43" width="1.65" height="40.4" fill="#63b3e5"/><rect x="8.09" width="1.11" height="40.4" fill="#a55fbf"/><rect x="9.19" width="2.61" height="40.4" fill="#63b3e5"/><rect x="11.80" width="2.40" height="40.4" fill="#a55fbf"/><rect x="14.19" width="1.81" height="40.4" fill="#63b3e5"/><rect x="16.00" width="3.00" height="40.4" fill="#a55fbf"/><rect x="19.00" width="2.50" height="40.4" fill="#e8aa5c"/><rect x="21.50" width="2.99" height="40.4" fill="#a55fbf"/><rect x="24.49" width="1.81" height="40.4" fill="#8d87cf"/><rect x="26.30" width="2.69" height="40.4" fill="#63b3e5"/><rect x="28.99" width="1.37" height="40.4" fill="#9b9b9b"/><rect x="30.36" width="1.64" height="40.4" fill="#63b3e5"/><rect x="32.00" width="2.38" height="40.4" fill="#9b9b9b"/><rect x="34.38" width="3.02" height="40.4" fill="#a55fbf"/><rect x="37.40" width="3.21" height="40.4" fill="#a05cb9"/><rect x="40.61" width="2.39" height="40.4" fill="#a35ebd"/><rect x="43.00" width="4.76" height="40.4" fill="#979797"/><rect x="47.76" width="4.04" height="40.4" fill="#9d9d9d"/><rect x="51.80" width="1.60" height="40.4" fill="#5db9b0"/><rect x="53.40" width="2.00" height="40.4" fill="#b07c8a"/><rect x="55.40" width="1.90" height="40.4" fill="#9b9b9b"/><rect x="57.30" width="3.75" height="40.4" fill="#9c9c9c"/><rect x="61.05" width="2.75" height="40.4" fill="#959595"/><rect x="63.80" width="3.14" height="40.4" fill="#9c9c9c"/><rect x="66.94" width="3.34" height="40.4" fill="#999999"/><rect x="70.28" width="2.72" height="40.4" fill="#9d9d9d"/><rect x="73.00" width="3.16" height="40.4" fill="#61afdf"/><rect x="76.16" width="3.44" height="40.4" fill="#60aedf"/><rect x="79.60" width="2.14" height="40.4" fill="#9b9b9b"/><rect x="81.74" width="1.10" height="40.4" fill="#63b3e5"/><rect x="82.84" width="1.56" height="40.4" fill="#9b9b9b"/><rect x="84.40" width="3.20" height="40.4" fill="#63b3e5"/><rect x="87.60" width="2.40" height="40.4" fill="#b07c8a"/><rect x="90.00" width="4.13" height="40.4" fill="#61b0e1"/><rect x="94.13" width="3.87" height="40.4" fill="#62b1e3"/><rect x="98.00" width="3.71" height="40.4" fill="#969696"/><rect x="101.71" width="2.01" height="40.4" fill="#9c9c9c"/><rect x="103.72" width="3.38" height="40.4" fill="#959595"/><rect x="107.10" width="5.00" height="40.4" fill="#9c9c9c"/><rect x="112.10" width="3.90" height="40.4" fill="#9b9b9b"/><rect x="116.00" width="2.60" height="40.4" fill="#b07c8a"/><rect x="118.60" width="4.80" height="40.4" fill="#9b9b9b"/><rect x="123.40" width="3.21" height="40.4" fill="#63b3e5"/><rect x="126.61" width="1.86" height="40.4" fill="#5db9b0"/><rect x="128.47" width="2.01" height="40.4" fill="#63b3e5"/><rect x="130.48" width="1.91" height="40.4" fill="#5db9b0"/><rect x="132.39" width="2.42" height="40.4" fill="#63b3e5"/><rect x="134.82" width="2.51" height="40.4" fill="#5db9b0"/><rect x="137.32" width="2.68" height="40.4" fill="#63b3e5"/><rect x="140.00" width="4.00" height="40.4" fill="#9b9b9b"/><rect x="144.00" width="5.00" height="40.4" fill="#63b3e5"/><rect x="149.00" width="4.70" height="40.4" fill="#8d87cf"/><rect x="153.70" width="2.99" height="40.4" fill="#63b3e5"/><rect x="156.69" width="2.18" height="40.4" fill="#62b1e2"/><rect x="158.87" width="1.93" height="40.4" fill="#5faddd"/><rect x="160.80" width="3.20" height="40.4" fill="#9b9b9b"/><rect x="164.00" width="3.42" height="40.4" fill="#5db9b0"/><rect x="167.42" width="1.38" height="40.4" fill="#9b9b9b"/><rect x="168.80" width="3.75" height="40.4" fill="#989898"/><rect x="172.55" width="2.30" height="40.4" fill="#999999"/><rect x="174.85" width="2.65" height="40.4" fill="#959595"/><rect x="177.50" width="4.00" height="40.4" fill="#63b3e5"/><rect x="181.50" width="4.00" height="40.4" fill="#8d87cf"/><rect x="185.50" width="2.28" height="40.4" fill="#9e9e9e"/><rect x="187.78" width="2.85" height="40.4" fill="#999999"/><rect x="190.63" width="4.37" height="40.4" fill="#979797"/><rect x="194.99" width="1.61" height="40.4" fill="#969696"/><rect x="196.60" width="3.40" height="40.4" fill="#a55fbf"/><rect x="200.00" width="2.40" height="40.4" fill="#8d87cf"/><rect x="202.40" width="3.20" height="40.4" fill="#b4aa7a"/><rect x="205.60" width="3.90" height="40.4" fill="#63b3e5"/><rect x="209.50" width="5.50" height="40.4" fill="#9a9a9a"/><rect x="215.00" width="4.00" height="40.4" fill="#a55fbf"/><rect x="219.00" width="2.50" height="40.4" fill="#9b9b9b"/><rect x="221.50" width="3.20" height="40.4" fill="#a55fbf"/><rect x="224.70" width="3.15" height="40.4" fill="#68b6e6"/><rect x="227.85" width="2.97" height="40.4" fill="#61afe0"/><rect x="230.83" width="3.17" height="40.4" fill="#66b5e6"/><rect x="234.00" width="3.40" height="40.4" fill="#9b9b9b"/><rect x="237.40" width="2.09" height="40.4" fill="#63b3e5"/><rect x="239.49" width="3.38" height="40.4" fill="#9b9b9b"/><rect x="242.87" width="2.20" height="40.4" fill="#63b3e5"/><rect x="245.07" width="5.00" height="40.4" fill="#9b9b9b"/><rect x="250.08" width="3.70" height="40.4" fill="#6b88c8"/><rect x="253.78" width="1.75" height="40.4" fill="#9b9b9b"/><rect x="255.52" width="3.48" height="40.4" fill="#6b88c8"/><rect x="259.00" width="2.06" height="40.4" fill="#8d87cf"/><rect x="261.06" width="2.12" height="40.4" fill="#9b9b9b"/><rect x="263.18" width="3.82" height="40.4" fill="#8d87cf"/><rect x="267.00" width="4.00" height="40.4" fill="#a55fbf"/><rect x="271.00" width="4.00" height="40.4" fill="#9b9b9b"/><rect x="275.00" width="3.00" height="40.4" fill="#5db9b0"/><rect x="278.00" width="2.97" height="40.4" fill="#9e9e9e"/><rect x="280.97" width="3.31" height="40.4" fill="#9d9d9d"/><rect x="284.28" width="3.32" height="40.4" fill="#979797"/><rect x="287.60" width="4.80" height="40.4" fill="#63b3e5"/><rect x="292.40" width="3.10" height="40.4" fill="#b07c8a"/><rect x="295.50" width="2.13" height="40.4" fill="#62b1e3"/><rect x="297.63" width="4.37" height="40.4" fill="#62b2e4"/><rect x="302.00" width="3.00" height="40.4" fill="#61afe0"/><rect x="305.00" width="3.43" height="40.4" fill="#9b9b9b"/><rect x="308.43" width="3.07" height="40.4" fill="#8d87cf"/><rect x="311.50" width="2.32" height="40.4" fill="#9b9b9b"/><rect x="313.82" width="2.29" height="40.4" fill="#63b3e5"/><rect x="316.11" width="1.90" height="40.4" fill="#9b9b9b"/><rect x="318.01" width="2.99" height="40.4" fill="#63b3e5"/><rect x="321.00" width="2.97" height="40.4" fill="#68b5e6"/><rect x="323.97" width="2.77" height="40.4" fill="#61b0e1"/><rect x="326.74" width="4.53" height="40.4" fill="#63b2e4"/><rect x="331.27" width="4.38" height="40.4" fill="#62b2e3"/><rect x="335.65" width="4.35" height="40.4" fill="#60adde"/><rect x="340.00" width="2.37" height="40.4" fill="#a55fbf"/><rect x="342.37" width="3.33" height="40.4" fill="#8d87cf"/><rect x="345.70" width="2.75" height="40.4" fill="#63b3e5"/><rect x="348.45" width="6.55" height="40.4" fill="#5db9b0"/><rect x="355.00" width="4.70" height="40.4" fill="#9a9a9a"/><rect x="359.70" width="4.30" height="40.4" fill="#9d9d9d"/><rect x="364.00" width="2.41" height="40.4" fill="#a55fbf"/><rect x="366.41" width="2.02" height="40.4" fill="#8d87cf"/><rect x="368.42" width="2.58" height="40.4" fill="#a55fbf"/><rect x="371.00" width="5.00" height="40.4" fill="#9b9b9b"/><rect x="376.00" width="4.89" height="40.4" fill="#61b0e1"/><rect x="380.89" width="2.20" height="40.4" fill="#60aede"/><rect x="383.09" width="3.91" height="40.4" fill="#60aedf"/><rect x="387.00" width="3.00" height="40.4" fill="#c9a06c"/><rect x="390.00" width="2.39" height="40.4" fill="#63b3e5"/><rect x="392.39" width="2.97" height="40.4" fill="#8d87cf"/><rect x="395.36" width="2.34" height="40.4" fill="#63b3e5"/><rect x="397.70" width="2.30" height="40.4" fill="#8d87cf"/><rect x="400.00" width="2.37" height="40.4" fill="#9b9b9b"/><rect x="402.37" width="1.13" height="40.4" fill="#5db9b0"/><rect x="403.50" width="2.90" height="40.4" fill="#9b9b9b"/><rect x="406.40" width="5.60" height="40.4" fill="#908ad0"/><rect x="412.00" width="3.00" height="40.4" fill="#9b9b9b"/><rect x="415.00" width="2.50" height="40.4" fill="#63b3e5"/><rect x="417.50" width="1.72" height="40.4" fill="#9b9b9b"/><rect x="419.22" width="2.10" height="40.4" fill="#8d87cf"/><rect x="421.32" width="2.58" height="40.4" fill="#5db9b0"/><rect x="423.90" width="2.86" height="40.4" fill="#9b9b9b"/><rect x="426.76" width="1.83" height="40.4" fill="#5db9b0"/><rect x="428.59" width="1.54" height="40.4" fill="#8d87cf"/><rect x="430.13" width="5.87" height="40.4" fill="#9b9b9b"/><rect x="436.00" width="3.00" height="40.4" fill="#b07c8a"/><rect x="439.00" width="11.71" height="40.4" fill="#9c9c9c"/><rect x="450.71" width="2.29" height="40.4" fill="#989898"/><rect x="453.00" width="2.17" height="40.4" fill="#9b9b9b"/><rect x="455.17" width="1.83" height="40.4" fill="#5db9b0"/><rect x="457.00" width="3.50" height="40.4" fill="#a55fbf"/><rect x="460.50" width="3.20" height="40.4" fill="#9b9b9b"/><rect x="463.70" width="2.76" height="40.4" fill="#67b5e6"/><rect x="466.46" width="2.04" height="40.4" fill="#60aedf"/><rect x="468.50" width="2.40" height="40.4" fill="#68b6e6"/><rect x="470.90" width="4.33" height="40.4" fill="#60aedf"/><rect x="475.23" width="4.37" height="40.4" fill="#60adde"/><rect x="479.60" width="3.35" height="40.4" fill="#63b3e5"/><rect x="482.95" width="3.05" height="40.4" fill="#9b9b9b"/><rect x="486.00" width="3.51" height="40.4" fill="#9a9a9a"/><rect x="489.51" width="3.49" height="40.4" fill="#999999"/><rect x="493.00" width="1.95" height="40.4" fill="#63b3e5"/><rect x="494.95" width="1.97" height="40.4" fill="#5db9b0"/><rect x="496.92" width="1.82" height="40.4" fill="#a55fbf"/><rect x="498.74" width="2.26" height="40.4" fill="#5db9b0"/><rect x="501.00" width="4.00" height="40.4" fill="#a55fbf"/><rect x="505.00" width="3.00" height="40.4" fill="#5db9b0"/><rect x="508.00" width="4.00" height="40.4" fill="#a55fbf"/><rect x="512.00" width="7.00" height="40.4" fill="#9d9d9d"/><rect x="519.00" width="4.40" height="40.4" fill="#b07c8a"/><rect x="523.40" width="2.73" height="40.4" fill="#62b2e3"/><rect x="526.13" width="3.99" height="40.4" fill="#64b3e5"/><rect x="530.12" width="1.88" height="40.4" fill="#67b5e6"/><rect x="532.00" width="2.64" height="40.4" fill="#9b9b9b"/><rect x="534.64" width="4.05" height="40.4" fill="#5db9b0"/><rect x="538.69" width="2.31" height="40.4" fill="#9b9b9b"/><rect x="541.00" width="4.00" height="40.4" fill="#63b3e5"/><rect x="545.00" width="4.00" height="40.4" fill="#8d87cf"/><rect x="549.00" width="2.12" height="40.4" fill="#9b9b9b"/><rect x="551.12" width="1.06" height="40.4" fill="#5db9b0"/><rect x="552.18" width="2.82" height="40.4" fill="#9b9b9b"/><rect x="555.00" width="4.00" height="40.4" fill="#969696"/><rect x="559.00" width="3.50" height="40.4" fill="#9c9c9c"/><rect x="562.50" width="4.00" height="40.4" fill="#92be8c"/><rect x="566.50" width="3.90" height="40.4" fill="#a55fbf"/><rect x="570.40" width="4.00" height="40.4" fill="#b4aa7a"/><rect x="574.40" width="2.30" height="40.4" fill="#a55fbf"/><rect x="576.70" width="4.80" height="40.4" fill="#9b9b9b"/><rect x="581.50" width="2.50" height="40.4" fill="#6b88c8"/><rect x="584.00" width="4.00" height="40.4" fill="#b4aa7a"/><rect x="588.00" width="3.40" height="40.4" fill="#62b1e2"/><rect x="591.40" width="3.61" height="40.4" fill="#63b3e4"/><rect x="595.01" width="3.29" height="40.4" fill="#62b2e3"/><rect x="598.30" width="3.58" height="40.4" fill="#64b3e5"/><rect x="601.88" width="3.06" height="40.4" fill="#66b5e6"/><rect x="604.93" width="2.07" height="40.4" fill="#62b2e3"/><rect x="607.00" width="1.93" height="40.4" fill="#b4aa7a"/><rect x="608.93" width="2.07" height="40.4" fill="#9b9b9b"/><rect x="611.00" width="3.00" height="40.4" fill="#63b3e5"/><rect x="614.00" width="3.00" height="40.4" fill="#9b9b9b"/><rect x="617.00" width="2.79" height="40.4" fill="#68b5e6"/><rect x="619.79" width="4.97" height="40.4" fill="#60aede"/><rect x="624.76" width="2.96" height="40.4" fill="#68b5e6"/><rect x="627.72" width="4.84" height="40.4" fill="#62b2e4"/><rect x="632.56" width="4.50" height="40.4" fill="#5facdc"/><rect x="637.06" width="2.35" height="40.4" fill="#63b3e5"/><rect x="639.41" width="4.59" height="40.4" fill="#60aede"/><rect x="644.00" width="3.50" height="40.4" fill="#9b9b9b"/><rect x="647.50" width="1.80" height="40.4" fill="#b07c8a"/><rect x="649.30" width="2.20" height="40.4" fill="#a55fbf"/><rect x="651.50" width="3.59" height="40.4" fill="#67b5e6"/><rect x="655.09" width="2.61" height="40.4" fill="#63b2e4"/><rect x="657.70" width="4.91" height="40.4" fill="#60aedf"/><rect x="662.61" width="3.20" height="40.4" fill="#65b4e5"/><rect x="665.81" width="2.19" height="40.4" fill="#63b3e5"/><rect x="668.00" width="2.60" height="40.4" fill="#8d87cf"/><rect x="670.60" width="3.58" height="40.4" fill="#5facdc"/><rect x="674.18" width="2.87" height="40.4" fill="#64b3e5"/><rect x="677.05" width="3.95" height="40.4" fill="#60addd"/><rect x="681.00" width="3.59" height="40.4" fill="#b07c8a"/><rect x="684.59" width="2.41" height="40.4" fill="#a55fbf"/><rect x="687.00" width="2.13" height="40.4" fill="#63b3e5"/><rect x="689.13" width="5.87" height="40.4" fill="#9b9b9b"/><rect x="695.00" width="6.00" height="40.4" fill="#9e9e9e"/><rect x="701.00" width="3.11" height="40.4" fill="#63b3e5"/><rect x="704.11" width="1.17" height="40.4" fill="#9b9b9b"/><rect x="705.28" width="1.22" height="40.4" fill="#63b3e5"/><rect x="706.50" width="7.87" height="40.4" fill="#9b9b9b"/><rect x="714.37" width="3.23" height="40.4" fill="#8d87cf"/><rect x="717.60" width="2.74" height="40.4" fill="#b07c8a"/><rect x="720.34" width="2.16" height="40.4" fill="#a55fbf"/><rect x="722.50" width="3.10" height="40.4" fill="#63b3e5"/><rect x="725.60" width="2.34" height="40.4" fill="#9d9d9d"/><rect x="727.94" width="4.06" height="40.4" fill="#9c9c9c"/><rect x="732.00" width="3.00" height="40.4" fill="#a55fbf"/><rect x="735.00" width="3.29" height="40.4" fill="#9b9b9b"/><rect x="738.29" width="2.86" height="40.4" fill="#63b3e5"/><rect x="741.15" width="1.85" height="40.4" fill="#9b9b9b"/><rect x="743.00" width="1.96" height="40.4" fill="#63b3e5"/><rect x="744.96" width="2.49" height="40.4" fill="#9b9b9b"/><rect x="747.45" width="2.55" height="40.4" fill="#63b3e5"/><rect x="750.00" width="2.12" height="40.4" fill="#a15dba"/><rect x="752.12" width="2.38" height="40.4" fill="#a45ebe"/><rect x="754.50" width="2.90" height="40.4" fill="#a763c1"/><rect x="757.40" width="1.60" height="40.4" fill="#b4aa7a"/><rect x="759.00" width="4.35" height="40.4" fill="#9e9e9e"/><rect x="763.35" width="4.16" height="40.4" fill="#989898"/><rect x="767.51" width="4.28" height="40.4" fill="#999999"/><rect x="771.79" width="4.33" height="40.4" fill="#9c9c9c"/><rect x="776.12" width="2.68" height="40.4" fill="#999999"/><rect x="778.80" width="5.70" height="40.4" fill="#9d9d9d"/><rect x="784.50" width="6.40" height="40.4" fill="#68b5e6"/><rect x="790.90" width="1.60" height="40.4" fill="#66b4e5"/><rect x="792.50" width="2.50" height="40.4" fill="#5db9b0"/></svg>
<svg class="r" style="left:430px;top:323.50px" width="795" height="40.4"><rect x="0.00" width="2.40" height="40.4" fill="#5db9b0"/><rect x="2.40" width="3.20" height="40.4" fill="#a55fbf"/><rect x="5.60" width="3.55" height="40.4" fill="#5db9b0"/><rect x="9.15" width="1.25" height="40.4" fill="#63b3e5"/><rect x="10.40" width="2.30" height="40.4" fill="#a55fbf"/><rect x="12.70" width="4.80" height="40.4" fill="#63b3e5"/><rect x="17.50" width="4.00" height="40.4" fill="#b4aa7a"/><rect x="21.50" width="3.20" height="40.4" fill="#63b3e5"/><rect x="24.70" width="3.30" height="40.4" fill="#a55fbf"/><rect x="28.00" width="4.32" height="40.4" fill="#62b0e2"/><rect x="32.32" width="2.18" height="40.4" fill="#66b4e5"/><rect x="34.51" width="4.55" height="40.4" fill="#60aede"/><rect x="39.06" width="3.85" height="40.4" fill="#60addd"/><rect x="42.92" width="2.71" height="40.4" fill="#5facdc"/><rect x="45.62" width="3.78" height="40.4" fill="#60aede"/><rect x="49.40" width="2.40" height="40.4" fill="#d86b5c"/><rect x="51.80" width="1.50" height="40.4" fill="#63b3e5"/><rect x="53.30" width="1.79" height="40.4" fill="#d86b5c"/><rect x="55.09" width="1.69" height="40.4" fill="#c9a06c"/><rect x="56.78" width="1.22" height="40.4" fill="#d86b5c"/><rect x="58.00" width="3.44" height="40.4" fill="#65b4e5"/><rect x="61.44" width="2.26" height="40.4" fill="#61b0e1"/><rect x="63.70" width="1.60" height="40.4" fill="#b07c8a"/><rect x="65.30" width="2.09" height="40.4" fill="#67b5e6"/><rect x="67.39" width="4.54" height="40.4" fill="#65b4e5"/><rect x="71.93" width="2.87" height="40.4" fill="#62b2e3"/><rect x="74.80" width="2.40" height="40.4" fill="#8d87cf"/><rect x="77.20" width="4.80" height="40.4" fill="#63b3e5"/><rect x="82.00" width="4.00" height="40.4" fill="#a55fbf"/><rect x="86.00" width="2.40" height="40.4" fill="#63b3e5"/><rect x="88.40" width="3.10" height="40.4" fill="#a55fbf"/><rect x="91.50" width="2.50" height="40.4" fill="#63b3e5"/><rect x="94.00" width="4.00" height="40.4" fill="#a55fbf"/><rect x="98.00" width="4.15" height="40.4" fill="#60aedf"/><rect x="102.15" width="3.46" height="40.4" fill="#62b2e3"/><rect x="105.61" width="2.39" height="40.4" fill="#62b1e3"/><rect x="108.00" width="1.93" height="40.4" fill="#a55fbf"/><rect x="109.93" width="1.21" height="40.4" fill="#8d87cf"/><rect x="111.14" width="1.86" height="40.4" fill="#a55fbf"/><rect x="113.00" width="2.06" height="40.4" fill="#60aede"/><rect x="115.06" width="4.76" height="40.4" fill="#63b3e5"/><rect x="119.82" width="3.66" height="40.4" fill="#64b3e5"/><rect x="123.48" width="2.44" height="40.4" fill="#62b2e3"/><rect x="125.92" width="3.08" height="40.4" fill="#65b4e5"/><rect x="129.00" width="3.00" height="40.4" fill="#e8aa5c"/><rect x="132.00" width="3.47" height="40.4" fill="#64b4e5"/><rect x="135.47" width="4.76" height="40.4" fill="#63b2e4"/><rect x="140.23" width="4.39" height="40.4" fill="#63b3e5"/><rect x="144.62" width="1.88" height="40.4" fill="#63b2e4"/><rect x="146.50" width="2.75" height="40.4" fill="#a864c1"/><rect x="149.25" width="4.23" height="40.4" fill="#a05cb9"/><rect x="153.47" width="2.53" height="40.4" fill="#a55fbe"/><rect x="156.00" width="1.60" height="40.4" fill="#63b3e5"/><rect x="157.60" width="2.16" height="40.4" fill="#a15dba"/><rect x="159.76" width="2.33" height="40.4" fill="#a05cb9"/><rect x="162.09" width="1.91" height="40.4" fill="#a763c1"/><rect x="164.00" width="2.40" height="40.4" fill="#63b3e5"/><rect x="166.40" width="4.51" height="40.4" fill="#a55fbe"/><rect x="170.91" width="3.02" height="40.4" fill="#a763c1"/><rect x="173.93" width="4.32" height="40.4" fill="#a45ebe"/><rect x="178.25" width="3.09" height="40.4" fill="#a865c1"/><rect x="181.34" width="2.03" height="40.4" fill="#a661c0"/><rect x="183.37" width="4.63" height="40.4" fill="#a25dbb"/><rect x="188.00" width="3.58" height="40.4" fill="#60aedf"/><rect x="191.58" width="4.08" height="40.4" fill="#65b4e5"/><rect x="195.66" width="4.06" height="40.4" fill="#64b3e5"/><rect x="199.72" width="2.11" height="40.4" fill="#5facdc"/><rect x="201.83" width="2.17" height="40.4" fill="#68b6e6"/><rect x="204.00" width="2.40" height="40.4" fill="#a55fbf"/><rect x="206.40" width="4.03" height="40.4" fill="#68b5e6"/><rect x="210.43" width="4.65" height="40.4" fill="#62b2e3"/><rect x="215.07" width="3.75" height="40.4" fill="#68b5e6"/><rect x="218.83" width="2.09" height="40.4" fill="#61afe0"/><rect x="220.92" width="5.38" height="40.4" fill="#68b5e6"/><rect x="226.30" width="2.32" height="40.4" fill="#a55fbf"/><rect x="228.62" width="4.78" height="40.4" fill="#a661c0"/><rect x="233.40" width="4.80" height="40.4" fill="#63b3e5"/><rect x="238.20" width="4.58" height="40.4" fill="#a15dbb"/><rect x="242.78" width="3.16" height="40.4" fill="#a662c0"/><rect x="245.95" width="2.74" height="40.4" fill="#a35ebc"/><rect x="248.69" width="4.72" height="40.4" fill="#a763c1"/><rect x="253.41" width="4.69" height="40.4" fill="#a660bf"/><rect x="258.10" width="2.40" height="40.4" fill="#63b3e5"/><rect x="260.50" width="3.37" height="40.4" fill="#8d87cf"/><rect x="263.87" width="1.55" height="40.4" fill="#9b9b9b"/><rect x="265.42" width="2.53" height="40.4" fill="#8d87cf"/><rect x="267.94" width="2.06" height="40.4" fill="#9b9b9b"/><rect x="270.00" width="3.57" height="40.4" fill="#66b5e6"/><rect x="273.57" width="2.05" height="40.4" fill="#63b3e5"/><rect x="275.62" width="3.35" height="40.4" fill="#65b4e5"/><rect x="278.97" width="2.31" height="40.4" fill="#61afe0"/><rect x="281.28" width="2.81" height="40.4" fill="#64b3e5"/><rect x="284.08" width="3.52" height="40.4" fill="#62b1e3"/><rect x="287.60" width="3.71" height="40.4" fill="#a660bf"/><rect x="291.31" width="1.89" height="40.4" fill="#a25dbc"/><rect x="293.20" width="2.30" height="40.4" fill="#63b3e5"/><rect x="295.50" width="4.16" height="40.4" fill="#a55fbf"/><rect x="299.66" width="2.36" height="40.4" fill="#8d87cf"/><rect x="302.02" width="2.82" height="40.4" fill="#a55fbf"/><rect x="304.84" width="1.37" height="40.4" fill="#8d87cf"/><rect x="306.21" width="1.29" height="40.4" fill="#a55fbf"/><rect x="307.50" width="2.09" height="40.4" fill="#62b1e2"/><rect x="309.59" width="2.26" height="40.4" fill="#67b5e6"/><rect x="311.85" width="4.78" height="40.4" fill="#5facdc"/><rect x="316.63" width="3.98" height="40.4" fill="#60aedf"/><rect x="320.61" width="3.59" height="40.4" fill="#65b4e5"/><rect x="324.20" width="3.20" height="40.4" fill="#8d87cf"/><rect x="327.40" width="3.20" height="40.4" fill="#63b3e5"/><rect x="330.60" width="3.08" height="40.4" fill="#a55fbf"/><rect x="333.68" width="2.01" height="40.4" fill="#8d87cf"/><rect x="335.69" width="1.31" height="40.4" fill="#a55fbf"/><rect x="337.00" width="1.87" height="40.4" fill="#b4aa7a"/><rect x="338.87" width="1.13" height="40.4" fill="#9b9b9b"/><rect x="340.00" width="3.25" height="40.4" fill="#67b5e6"/><rect x="343.25" width="2.39" height="40.4" fill="#61b0e1"/><rect x="345.64" width="3.10" height="40.4" fill="#61afe0"/><rect x="348.74" width="4.98" height="40.4" fill="#62b0e2"/><rect x="353.72" width="2.28" height="40.4" fill="#64b4e5"/><rect x="356.00" width="3.20" height="40.4" fill="#a55fbf"/><rect x="359.20" width="3.20" height="40.4" fill="#63b3e5"/><rect x="362.40" width="3.11" height="40.4" fill="#a55fbf"/><rect x="365.51" width="2.80" height="40.4" fill="#8d87cf"/><rect x="368.31" width="1.29" height="40.4" fill="#a55fbf"/><rect x="369.60" width="4.51" height="40.4" fill="#61b0e1"/><rect x="374.11" width="2.87" height="40.4" fill="#5facdc"/><rect x="376.98" width="2.65" height="40.4" fill="#66b4e5"/><rect x="379.63" width="2.67" height="40.4" fill="#68b6e6"/><rect x="382.30" width="1.70" height="40.4" fill="#b4aa7a"/><rect x="384.00" width="2.30" height="40.4" fill="#9b9b9b"/><rect x="386.30" width="4.00" height="40.4" fill="#63b3e5"/><rect x="390.30" width="2.38" height="40.4" fill="#a661c0"/><rect x="392.68" width="5.68" height="40.4" fill="#a763c1"/><rect x="398.36" width="5.64" height="40.4" fill="#a661c0"/><rect x="404.00" width="4.50" height="40.4" fill="#61afdf"/><rect x="408.50" width="3.50" height="40.4" fill="#67b5e6"/><rect x="412.00" width="3.54" height="40.4" fill="#a55fbf"/><rect x="415.54" width="1.96" height="40.4" fill="#8d87cf"/><rect x="417.50" width="4.55" height="40.4" fill="#67b5e6"/><rect x="422.05" width="1.85" height="40.4" fill="#62b1e3"/><rect x="423.90" width="3.59" height="40.4" fill="#a55fbf"/><rect x="427.49" width="2.01" height="40.4" fill="#8d87cf"/><rect x="429.50" width="1.68" height="40.4" fill="#63b3e5"/><rect x="431.18" width="4.27" height="40.4" fill="#b4aa7a"/><rect x="435.45" width="3.24" height="40.4" fill="#63b3e5"/><rect x="438.69" width="1.11" height="40.4" fill="#b4aa7a"/><rect x="439.80" width="4.20" height="40.4" fill="#5facdc"/><rect x="444.00" width="4.32" height="40.4" fill="#66b4e5"/><rect x="448.32" width="8.98" height="40.4" fill="#66b5e6"/><rect x="457.30" width="3.20" height="40.4" fill="#b4aa7a"/><rect x="460.50" width="8.00" height="40.4" fill="#65b4e5"/><rect x="468.50" width="4.00" height="40.4" fill="#a55fbf"/><rect x="472.50" width="3.10" height="40.4" fill="#63b3e5"/><rect x="475.60" width="3.20" height="40.4" fill="#a55fbf"/><rect x="478.80" width="2.14" height="40.4" fill="#67b5e6"/><rect x="480.94" width="3.48" height="40.4" fill="#63b2e4"/><rect x="484.42" width="1.58" height="40.4" fill="#60aedf"/><rect x="486.00" width="1.60" height="40.4" fill="#b4aa7a"/><rect x="487.60" width="4.11" height="40.4" fill="#62b0e2"/><rect x="491.71" width="3.79" height="40.4" fill="#63b3e5"/><rect x="495.50" width="2.50" height="40.4" fill="#8d87cf"/><rect x="498.00" width="4.00" height="40.4" fill="#63b3e5"/><rect x="502.00" width="3.00" height="40.4" fill="#8d87cf"/><rect x="505.00" width="2.82" height="40.4" fill="#5facdc"/><rect x="507.82" width="3.91" height="40.4" fill="#66b5e6"/><rect x="511.72" width="3.79" height="40.4" fill="#64b3e5"/><rect x="515.51" width="4.08" height="40.4" fill="#62b1e3"/><rect x="519.59" width="4.64" height="40.4" fill="#66b4e5"/><rect x="524.23" width="4.77" height="40.4" fill="#67b5e6"/><rect x="529.00" width="3.00" height="40.4" fill="#60aedf"/><rect x="532.00" width="4.00" height="40.4" fill="#b07c8a"/><rect x="536.00" width="4.10" height="40.4" fill="#a55fbf"/><rect x="540.10" width="1.60" height="40.4" fill="#63b3e5"/><rect x="541.70" width="2.40" height="40.4" fill="#a55fbf"/><rect x="544.10" width="4.83" height="40.4" fill="#61b0e1"/><rect x="548.93" width="4.18" height="40.4" fill="#62b0e2"/><rect x="553.10" width="3.99" height="40.4" fill="#60adde"/><rect x="557.10" width="2.46" height="40.4" fill="#61afe0"/><rect x="559.56" width="4.97" height="40.4" fill="#67b5e6"/><rect x="564.53" width="2.16" height="40.4" fill="#61afe0"/><rect x="566.70" width="3.62" height="40.4" fill="#60addd"/><rect x="570.32" width="3.28" height="40.4" fill="#65b4e5"/><rect x="573.60" width="3.10" height="40.4" fill="#c9a06c"/><rect x="576.70" width="5.60" height="40.4" fill="#60adde"/><rect x="582.30" width="4.00" height="40.4" fill="#8d87cf"/><rect x="586.30" width="4.00" height="40.4" fill="#b07c8a"/><rect x="590.30" width="4.70" height="40.4" fill="#a55fbf"/><rect x="595.00" width="3.00" height="40.4" fill="#63b3e5"/><rect x="598.00" width="1.66" height="40.4" fill="#8d87cf"/><rect x="599.66" width="1.74" height="40.4" fill="#a55fbf"/><rect x="601.40" width="1.60" height="40.4" fill="#63b3e5"/><rect x="603.00" width="3.10" height="40.4" fill="#b07c8a"/><rect x="606.10" width="1.88" height="40.4" fill="#a55fbf"/><rect x="607.98" width="1.66" height="40.4" fill="#63b3e5"/><rect x="609.63" width="2.56" height="40.4" fill="#a55fbf"/><rect x="612.19" width="2.52" height="40.4" fill="#63b3e5"/><rect x="614.71" width="2.48" height="40.4" fill="#8d87cf"/><rect x="617.19" width="3.06" height="40.4" fill="#a55fbf"/><rect x="620.25" width="2.20" height="40.4" fill="#63b3e5"/><rect x="622.45" width="2.05" height="40.4" fill="#8d87cf"/><rect x="624.50" width="3.10" height="40.4" fill="#a55fbf"/><rect x="627.60" width="2.10" height="40.4" fill="#8d87cf"/><rect x="629.70" width="2.39" height="40.4" fill="#a55fbf"/><rect x="632.09" width="2.42" height="40.4" fill="#9b9b9b"/><rect x="634.51" width="1.95" height="40.4" fill="#a55fbf"/><rect x="636.46" width="1.31" height="40.4" fill="#8d87cf"/><rect x="637.77" width="2.95" height="40.4" fill="#a55fbf"/><rect x="640.72" width="1.00" height="40.4" fill="#9b9b9b"/><rect x="641.72" width="2.68" height="40.4" fill="#a55fbf"/><rect x="644.40" width="3.10" height="40.4" fill="#b07c8a"/><rect x="647.50" width="2.50" height="40.4" fill="#63b3e5"/><rect x="650.00" width="3.45" height="40.4" fill="#908ad0"/><rect x="653.45" width="3.55" height="40.4" fill="#8e88d0"/><rect x="657.00" width="1.88" height="40.4" fill="#63b3e5"/><rect x="658.88" width="7.76" height="40.4" fill="#8d87cf"/><rect x="666.65" width="3.15" height="40.4" fill="#63b3e5"/><rect x="669.80" width="3.00" height="40.4" fill="#a55fbf"/><rect x="672.80" width="5.00" height="40.4" fill="#63b3e5"/><rect x="677.80" width="3.42" height="40.4" fill="#d86b5c"/><rect x="681.22" width="2.88" height="40.4" fill="#d3695a"/><rect x="684.10" width="2.50" height="40.4" fill="#d16759"/><rect x="686.60" width="2.26" height="40.4" fill="#a864c1"/><rect x="688.86" width="4.14" height="40.4" fill="#a661c0"/><rect x="693.00" width="3.74" height="40.4" fill="#66b5e6"/><rect x="696.74" width="3.86" height="40.4" fill="#60adde"/><rect x="700.59" width="4.35" height="40.4" fill="#68b5e6"/><rect x="704.94" width="1.56" height="40.4" fill="#65b4e5"/><rect x="706.50" width="2.30" height="40.4" fill="#b4aa7a"/><rect x="708.80" width="4.00" height="40.4" fill="#63b3e5"/><rect x="712.80" width="3.20" height="40.4" fill="#b4aa7a"/><rect x="716.00" width="2.21" height="40.4" fill="#67b5e6"/><rect x="718.21" width="2.08" height="40.4" fill="#65b4e5"/><rect x="720.29" width="2.91" height="40.4" fill="#68b5e6"/><rect x="723.20" width="1.60" height="40.4" fill="#b4aa7a"/><rect x="724.80" width="2.25" height="40.4" fill="#67b5e6"/><rect x="727.05" width="2.39" height="40.4" fill="#65b4e5"/><rect x="729.44" width="4.06" height="40.4" fill="#62b2e4"/><rect x="733.50" width="2.50" height="40.4" fill="#b4aa7a"/><rect x="736.00" width="3.04" height="40.4" fill="#61b0e1"/><rect x="739.04" width="11.26" height="40.4" fill="#63b3e5"/><rect x="750.30" width="3.20" height="40.4" fill="#b07c8a"/><rect x="753.50" width="3.90" height="40.4" fill="#5db9b0"/><rect x="757.40" width="3.52" height="40.4" fill="#9f5bb8"/><rect x="760.92" width="3.68" height="40.4" fill="#a15dbb"/><rect x="764.60" width="2.62" height="40.4" fill="#60aede"/><rect x="767.22" width="3.98" height="40.4" fill="#61b0e1"/><rect x="771.21" width="4.14" height="40.4" fill="#64b3e5"/><rect x="775.35" width="2.12" height="40.4" fill="#63b2e4"/><rect x="777.47" width="4.83" height="40.4" fill="#68b5e6"/><rect x="782.31" width="3.32" height="40.4" fill="#62b0e2"/><rect x="785.63" width="9.37" height="40.4" fill="#65b4e5"/></svg>
<svg class="r" style="left:430px;top:374.70px" width="795" height="40.4"><rect x="0.00" width="5.60" height="40.4" fill="#67b5e6"/><rect x="5.60" width="4.80" height="40.4" fill="#a55fbf"/><rect x="10.40" width="3.10" height="40.4" fill="#63b3e5"/><rect x="13.50" width="4.98" height="40.4" fill="#62b1e2"/><rect x="18.48" width="3.02" height="40.4" fill="#63b2e4"/><rect x="21.50" width="2.75" height="40.4" fill="#8d87cf"/><rect x="24.25" width="1.59" height="40.4" fill="#63b3e5"/><rect x="25.83" width="1.67" height="40.4" fill="#8d87cf"/><rect x="27.51" width="1.99" height="40.4" fill="#63b3e5"/><rect x="29.50" width="2.17" height="40.4" fill="#a45fbe"/><rect x="31.67" width="2.80" height="40.4" fill="#9f5cb9"/><rect x="34.46" width="3.74" height="40.4" fill="#a763c1"/><rect x="38.20" width="1.60" height="40.4" fill="#8d87cf"/><rect x="39.80" width="2.61" height="40.4" fill="#a662c0"/><rect x="42.41" width="4.68" height="40.4" fill="#a864c1"/><rect x="47.09" width="2.31" height="40.4" fill="#a763c1"/><rect x="49.40" width="2.40" height="40.4" fill="#63b3e5"/><rect x="51.80" width="4.68" height="40.4" fill="#9f5cb8"/><rect x="56.48" width="4.38" height="40.4" fill="#a661c0"/><rect x="60.86" width="2.92" height="40.4" fill="#a864c1"/><rect x="63.77" width="4.73" height="40.4" fill="#a45fbe"/><rect x="68.50" width="3.33" height="40.4" fill="#d86b5c"/><rect x="71.83" width="2.85" height="40.4" fill="#d16759"/><rect x="74.68" width="5.72" height="40.4" fill="#d97061"/><rect x="80.40" width="3.20" height="40.4" fill="#63b3e5"/><rect x="83.60" width="6.28" height="40.4" fill="#d86b5c"/><rect x="89.88" width="3.85" height="40.4" fill="#d76a5c"/><rect x="93.72" width="4.06" height="40.4" fill="#d86d5e"/><rect x="97.78" width="1.72" height="40.4" fill="#d06759"/><rect x="99.50" width="3.20" height="40.4" fill="#63b3e5"/><rect x="102.70" width="2.30" height="40.4" fill="#9b9b9b"/><rect x="105.00" width="1.70" height="40.4" fill="#63b3e5"/><rect x="106.70" width="2.03" height="40.4" fill="#d06759"/><rect x="108.73" width="2.64" height="40.4" fill="#d66a5b"/><rect x="111.36" width="2.72" height="40.4" fill="#d76a5c"/><rect x="114.08" width="3.72" height="40.4" fill="#d97061"/><rect x="117.80" width="4.00" height="40.4" fill="#a55fbf"/><rect x="121.80" width="2.48" height="40.4" fill="#60aedf"/><rect x="124.28" width="3.92" height="40.4" fill="#64b4e5"/><rect x="128.20" width="3.05" height="40.4" fill="#a661c0"/><rect x="131.25" width="3.59" height="40.4" fill="#a45ebd"/><rect x="134.85" width="3.61" height="40.4" fill="#9f5cb8"/><rect x="138.45" width="1.55" height="40.4" fill="#a25ebc"/><rect x="140.00" width="2.40" height="40.4" fill="#8d87cf"/><rect x="142.40" width="3.30" height="40.4" fill="#a55fbf"/><rect x="145.70" width="3.55" height="40.4" fill="#62b1e3"/><rect x="149.25" width="2.68" height="40.4" fill="#64b3e5"/><rect x="151.93" width="3.72" height="40.4" fill="#61aedf"/><rect x="155.66" width="4.80" height="40.4" fill="#64b4e5"/><rect x="160.46" width="3.87" height="40.4" fill="#64b3e5"/><rect x="164.33" width="3.30" height="40.4" fill="#61afe0"/><rect x="167.63" width="3.76" height="40.4" fill="#61b0e1"/><rect x="171.39" width="4.59" height="40.4" fill="#60addd"/><rect x="175.98" width="4.00" height="40.4" fill="#65b4e5"/><rect x="179.98" width="2.39" height="40.4" fill="#62b2e3"/><rect x="182.37" width="2.18" height="40.4" fill="#68b5e6"/><rect x="184.56" width="1.74" height="40.4" fill="#62b1e2"/><rect x="186.30" width="2.75" height="40.4" fill="#63b3e5"/><rect x="189.05" width="1.25" height="40.4" fill="#8d87cf"/><rect x="190.30" width="2.40" height="40.4" fill="#ffffff"/><rect x="192.70" width="2.30" height="40.4" fill="#a55fbf"/><rect x="195.00" width="5.00" height="40.4" fill="#ffffff"/><rect x="200.00" width="2.40" height="40.4" fill="#a55fbf"/><rect x="202.40" width="1.60" height="40.4" fill="#b4aa7a"/><rect x="204.00" width="4.00" height="40.4" fill="#63b3e5"/><rect x="208.00" width="6.30" height="40.4" fill="#ffffff"/><rect x="214.30" width="1.70" height="40.4" fill="#a55fbf"/><rect x="216.00" width="4.70" height="40.4" fill="#ffffff"/><rect x="220.70" width="3.30" height="40.4" fill="#e4d4ee"/><rect x="224.00" width="3.00" height="40.4" fill="#69bfe2"/><rect x="227.00" width="4.00" height="40.4" fill="#63b3e5"/><rect x="231.00" width="3.00" height="40.4" fill="#ffffff"/><rect x="234.00" width="5.00" height="40.4" fill="#a55fbf"/><rect x="239.00" width="4.00" height="40.4" fill="#c9a06c"/><rect x="243.00" width="3.20" height="40.4" fill="#8d87cf"/><rect x="246.20" width="4.80" height="40.4" fill="#ffffff"/><rect x="251.00" width="3.10" height="40.4" fill="#a55fbf"/><rect x="254.10" width="3.20" height="40.4" fill="#ffffff"/><rect x="257.30" width="3.20" height="40.4" fill="#a55fbf"/><rect x="260.50" width="9.50" height="40.4" fill="#ffffff"/><rect x="270.00" width="5.60" height="40.4" fill="#a864c1"/><rect x="275.60" width="2.40" height="40.4" fill="#5db9b0"/><rect x="278.00" width="2.40" height="40.4" fill="#b07c8a"/><rect x="280.40" width="2.40" height="40.4" fill="#63b3e5"/><rect x="282.80" width="4.00" height="40.4" fill="#b4aa7a"/><rect x="286.80" width="2.40" height="40.4" fill="#8d87cf"/><rect x="289.20" width="6.30" height="40.4" fill="#ffffff"/><rect x="295.50" width="4.00" height="40.4" fill="#8d87cf"/><rect x="299.50" width="3.58" height="40.4" fill="#b4aa7a"/><rect x="303.08" width="1.22" height="40.4" fill="#9b9b9b"/><rect x="304.30" width="1.60" height="40.4" fill="#ffffff"/><rect x="305.90" width="2.64" height="40.4" fill="#a55fbf"/><rect x="308.54" width="1.30" height="40.4" fill="#63b3e5"/><rect x="309.84" width="1.66" height="40.4" fill="#a55fbf"/><rect x="311.50" width="3.47" height="40.4" fill="#63b3e5"/><rect x="314.97" width="2.29" height="40.4" fill="#8d87cf"/><rect x="317.26" width="2.14" height="40.4" fill="#63b3e5"/><rect x="319.40" width="4.80" height="40.4" fill="#b4aa7a"/><rect x="324.20" width="4.00" height="40.4" fill="#8d87cf"/><rect x="328.20" width="1.60" height="40.4" fill="#b4aa7a"/><rect x="329.80" width="4.03" height="40.4" fill="#9f5cb9"/><rect x="333.83" width="2.78" height="40.4" fill="#a661c0"/><rect x="336.62" width="3.86" height="40.4" fill="#a45ebd"/><rect x="340.48" width="2.52" height="40.4" fill="#a55fbf"/><rect x="343.00" width="4.52" height="40.4" fill="#8882c8"/><rect x="347.52" width="3.48" height="40.4" fill="#8b85cd"/><rect x="351.00" width="3.94" height="40.4" fill="#9e5bb7"/><rect x="354.94" width="3.63" height="40.4" fill="#a35ebd"/><rect x="358.57" width="2.24" height="40.4" fill="#9f5cb8"/><rect x="360.81" width="3.00" height="40.4" fill="#a45fbe"/><rect x="363.82" width="3.36" height="40.4" fill="#a660bf"/><rect x="367.18" width="3.87" height="40.4" fill="#a661c0"/><rect x="371.04" width="4.67" height="40.4" fill="#a763c1"/><rect x="375.71" width="2.32" height="40.4" fill="#a661c0"/><rect x="378.03" width="2.36" height="40.4" fill="#a763c0"/><rect x="380.39" width="4.31" height="40.4" fill="#a560bf"/><rect x="384.70" width="2.25" height="40.4" fill="#b4aa7a"/><rect x="386.95" width="1.75" height="40.4" fill="#9b9b9b"/><rect x="388.70" width="4.80" height="40.4" fill="#b4aa7a"/><rect x="393.50" width="2.83" height="40.4" fill="#63b3e5"/><rect x="396.33" width="2.52" height="40.4" fill="#60aedf"/><rect x="398.85" width="5.15" height="40.4" fill="#62b2e4"/><rect x="404.00" width="2.40" height="40.4" fill="#b4aa7a"/><rect x="406.40" width="3.38" height="40.4" fill="#61b0e1"/><rect x="409.78" width="2.92" height="40.4" fill="#5facdc"/><rect x="412.70" width="2.40" height="40.4" fill="#a55fbf"/><rect x="415.10" width="2.92" height="40.4" fill="#63b3e5"/><rect x="418.02" width="5.88" height="40.4" fill="#a55fbf"/><rect x="423.90" width="3.64" height="40.4" fill="#a45ebe"/><rect x="427.54" width="2.76" height="40.4" fill="#a763c1"/><rect x="430.30" width="3.32" height="40.4" fill="#63b3e5"/><rect x="433.62" width="1.40" height="40.4" fill="#a55fbf"/><rect x="435.02" width="2.09" height="40.4" fill="#8d87cf"/><rect x="437.10" width="2.38" height="40.4" fill="#a55fbf"/><rect x="439.48" width="3.52" height="40.4" fill="#63b3e5"/><rect x="443.00" width="3.20" height="40.4" fill="#b4aa7a"/><rect x="446.20" width="2.91" height="40.4" fill="#62b2e3"/><rect x="449.11" width="5.79" height="40.4" fill="#66b5e6"/><rect x="454.90" width="3.20" height="40.4" fill="#b4aa7a"/><rect x="458.10" width="2.40" height="40.4" fill="#8d87cf"/><rect x="460.50" width="4.00" height="40.4" fill="#c9a06c"/><rect x="464.50" width="1.74" height="40.4" fill="#8d87cf"/><rect x="466.24" width="2.26" height="40.4" fill="#9b9b9b"/><rect x="468.50" width="4.50" height="40.4" fill="#ffffff"/><rect x="473.00" width="2.82" height="40.4" fill="#63b3e5"/><rect x="475.82" width="1.01" height="40.4" fill="#8d87cf"/><rect x="476.83" width="1.17" height="40.4" fill="#63b3e5"/><rect x="478.00" width="4.55" height="40.4" fill="#a15dbb"/><rect x="482.55" width="3.04" height="40.4" fill="#a661c0"/><rect x="485.59" width="2.81" height="40.4" fill="#9f5bb8"/><rect x="488.40" width="2.40" height="40.4" fill="#63b3e5"/><rect x="490.80" width="2.43" height="40.4" fill="#a661c0"/><rect x="493.23" width="3.91" height="40.4" fill="#a45ebe"/><rect x="497.14" width="2.19" height="40.4" fill="#a55fbf"/><rect x="499.33" width="2.50" height="40.4" fill="#a45fbe"/><rect x="501.83" width="2.47" height="40.4" fill="#a560bf"/><rect x="504.30" width="2.40" height="40.4" fill="#8d87cf"/><rect x="506.70" width="4.80" height="40.4" fill="#a55fbf"/><rect x="511.50" width="4.95" height="40.4" fill="#67b5e6"/><rect x="516.45" width="4.81" height="40.4" fill="#64b4e5"/><rect x="521.27" width="4.93" height="40.4" fill="#63b3e5"/><rect x="526.20" width="4.40" height="40.4" fill="#61afe0"/><rect x="530.60" width="3.36" height="40.4" fill="#a55fbf"/><rect x="533.96" width="1.72" height="40.4" fill="#8d87cf"/><rect x="535.68" width="2.19" height="40.4" fill="#a55fbf"/><rect x="537.87" width="1.83" height="40.4" fill="#8d87cf"/><rect x="539.70" width="2.00" height="40.4" fill="#a55fbf"/><rect x="541.70" width="4.78" height="40.4" fill="#a25dbb"/><rect x="546.48" width="4.59" height="40.4" fill="#a25ebc"/><rect x="551.07" width="3.43" height="40.4" fill="#9f5cb8"/><rect x="554.50" width="2.92" height="40.4" fill="#63b3e5"/><rect x="557.42" width="1.98" height="40.4" fill="#a55fbf"/><rect x="559.40" width="2.54" height="40.4" fill="#63b3e5"/><rect x="561.94" width="1.14" height="40.4" fill="#a55fbf"/><rect x="563.08" width="1.11" height="40.4" fill="#8d87cf"/><rect x="564.18" width="2.24" height="40.4" fill="#63b3e5"/><rect x="566.42" width="2.50" height="40.4" fill="#a55fbf"/><rect x="568.92" width="1.48" height="40.4" fill="#8d87cf"/><rect x="570.40" width="4.39" height="40.4" fill="#a25ebc"/><rect x="574.79" width="3.23" height="40.4" fill="#a25dbc"/><rect x="578.02" width="3.48" height="40.4" fill="#a661c0"/><rect x="581.50" width="2.23" height="40.4" fill="#61afe0"/><rect x="583.73" width="3.10" height="40.4" fill="#60adde"/><rect x="586.84" width="3.46" height="40.4" fill="#61afe0"/><rect x="590.30" width="1.60" height="40.4" fill="#e6c45e"/><rect x="591.90" width="3.10" height="40.4" fill="#63b3e5"/><rect x="595.00" width="4.10" height="40.4" fill="#d96f61"/><rect x="599.10" width="4.70" height="40.4" fill="#d66a5b"/><rect x="603.80" width="4.70" height="40.4" fill="#a55fbf"/><rect x="608.50" width="3.20" height="40.4" fill="#63b3e5"/><rect x="611.70" width="3.88" height="40.4" fill="#a45ebd"/><rect x="615.58" width="4.55" height="40.4" fill="#a15dba"/><rect x="620.12" width="3.05" height="40.4" fill="#a661c0"/><rect x="623.17" width="4.78" height="40.4" fill="#a560bf"/><rect x="627.95" width="2.27" height="40.4" fill="#a05cba"/><rect x="630.22" width="2.46" height="40.4" fill="#a45ebe"/><rect x="632.68" width="3.02" height="40.4" fill="#a25dbc"/><rect x="635.70" width="4.13" height="40.4" fill="#a762c0"/><rect x="639.83" width="3.61" height="40.4" fill="#a15dba"/><rect x="643.44" width="3.78" height="40.4" fill="#a762c0"/><rect x="647.22" width="3.48" height="40.4" fill="#a35ebd"/><rect x="650.70" width="4.80" height="40.4" fill="#e6c45e"/><rect x="655.50" width="13.50" height="40.4" fill="#ffffff"/><rect x="669.00" width="4.00" height="40.4" fill="#63b3e5"/><rect x="673.00" width="3.20" height="40.4" fill="#f3e2c4"/><rect x="676.20" width="2.40" height="40.4" fill="#b07c8a"/><rect x="678.60" width="4.00" height="40.4" fill="#63b3e5"/><rect x="682.60" width="3.20" height="40.4" fill="#a55fbf"/><rect x="685.80" width="3.21" height="40.4" fill="#68b6e6"/><rect x="689.01" width="2.51" height="40.4" fill="#60aede"/><rect x="691.51" width="2.70" height="40.4" fill="#64b3e5"/><rect x="694.22" width="1.78" height="40.4" fill="#62b2e4"/><rect x="696.00" width="4.00" height="40.4" fill="#ffffff"/><rect x="700.00" width="2.50" height="40.4" fill="#a55fbf"/><rect x="702.50" width="3.84" height="40.4" fill="#60aedf"/><rect x="706.34" width="2.88" height="40.4" fill="#68b5e6"/><rect x="709.22" width="1.78" height="40.4" fill="#60adde"/><rect x="711.00" width="5.00" height="40.4" fill="#8d87cf"/><rect x="716.00" width="4.81" height="40.4" fill="#a35ebd"/><rect x="720.81" width="4.75" height="40.4" fill="#a661c0"/><rect x="725.57" width="3.71" height="40.4" fill="#a25dbc"/><rect x="729.27" width="3.27" height="40.4" fill="#a35ebc"/><rect x="732.54" width="3.07" height="40.4" fill="#a25dbb"/><rect x="735.61" width="3.46" height="40.4" fill="#a35ebd"/><rect x="739.07" width="3.17" height="40.4" fill="#a661c0"/><rect x="742.23" width="3.26" height="40.4" fill="#a864c1"/><rect x="745.49" width="2.68" height="40.4" fill="#a15dba"/><rect x="748.17" width="4.43" height="40.4" fill="#a763c0"/><rect x="752.60" width="1.40" height="40.4" fill="#8d87cf"/><rect x="754.00" width="3.40" height="40.4" fill="#92be8c"/><rect x="757.40" width="3.20" height="40.4" fill="#8d87cf"/><rect x="760.60" width="3.28" height="40.4" fill="#a05cb9"/><rect x="763.88" width="3.53" height="40.4" fill="#a661c0"/><rect x="767.40" width="2.21" height="40.4" fill="#9f5bb8"/><rect x="769.61" width="3.19" height="40.4" fill="#a763c0"/><rect x="772.80" width="4.70" height="40.4" fill="#a660bf"/><rect x="777.51" width="2.69" height="40.4" fill="#a05cb9"/><rect x="780.20" width="3.50" height="40.4" fill="#9f5bb8"/><rect x="783.70" width="1.60" height="40.4" fill="#9b9b9b"/><rect x="785.30" width="2.94" height="40.4" fill="#a35ebd"/><rect x="788.24" width="3.16" height="40.4" fill="#a864c1"/><rect x="791.40" width="1.80" height="40.4" fill="#9f5bb8"/><rect x="793.20" width="1.80" height="40.4" fill="#63b3e5"/></svg>
<svg class="r" style="left:430px;top:425.90px" width="795" height="40.4"><rect x="0.00" width="3.04" height="40.4" fill="#979797"/><rect x="3.04" width="2.04" height="40.4" fill="#9e9e9e"/><rect x="5.08" width="4.42" height="40.4" fill="#959595"/><rect x="9.50" width="2.50" height="40.4" fill="#a55fbf"/><rect x="12.00" width="4.00" height="40.4" fill="#69bfe2"/><rect x="16.00" width="2.02" height="40.4" fill="#63b3e5"/><rect x="18.02" width="2.02" height="40.4" fill="#9b9b9b"/><rect x="20.03" width="2.41" height="40.4" fill="#63b3e5"/><rect x="22.45" width="1.55" height="40.4" fill="#8d87cf"/><rect x="24.00" width="2.30" height="40.4" fill="#9b9b9b"/><rect x="26.30" width="2.15" height="40.4" fill="#63b3e5"/><rect x="28.45" width="2.55" height="40.4" fill="#69bfe2"/><rect x="31.00" width="3.14" height="40.4" fill="#a55fbf"/><rect x="34.14" width="2.21" height="40.4" fill="#b07c8a"/><rect x="36.35" width="1.62" height="40.4" fill="#a55fbf"/><rect x="37.97" width="1.60" height="40.4" fill="#b07c8a"/><rect x="39.57" width="2.41" height="40.4" fill="#a55fbf"/><rect x="41.98" width="2.41" height="40.4" fill="#b07c8a"/><rect x="44.39" width="1.61" height="40.4" fill="#a55fbf"/><rect x="46.00" width="4.08" height="40.4" fill="#68b5e6"/><rect x="50.08" width="2.77" height="40.4" fill="#64b3e5"/><rect x="52.84" width="4.46" height="40.4" fill="#60adde"/><rect x="57.30" width="2.57" height="40.4" fill="#9f5cb8"/><rect x="59.87" width="4.71" height="40.4" fill="#a762c0"/><rect x="64.58" width="2.61" height="40.4" fill="#a05cb9"/><rect x="67.19" width="4.97" height="40.4" fill="#a661c0"/><rect x="72.16" width="4.50" height="40.4" fill="#9e5bb7"/><rect x="76.66" width="3.51" height="40.4" fill="#a55fbf"/><rect x="80.17" width="4.79" height="40.4" fill="#a35ebc"/><rect x="84.96" width="3.10" height="40.4" fill="#a15dbb"/><rect x="88.06" width="2.10" height="40.4" fill="#9f5cb9"/><rect x="90.16" width="3.46" height="40.4" fill="#a763c1"/><rect x="93.63" width="3.37" height="40.4" fill="#a25dbc"/><rect x="97.00" width="3.30" height="40.4" fill="#63b3e5"/><rect x="100.30" width="2.15" height="40.4" fill="#a763c0"/><rect x="102.45" width="3.45" height="40.4" fill="#a45fbe"/><rect x="105.90" width="1.60" height="40.4" fill="#63b3e5"/><rect x="107.50" width="2.21" height="40.4" fill="#8d87cf"/><rect x="109.72" width="3.28" height="40.4" fill="#63b3e5"/><rect x="113.00" width="2.19" height="40.4" fill="#a45fbe"/><rect x="115.19" width="3.95" height="40.4" fill="#a35ebd"/><rect x="119.14" width="2.03" height="40.4" fill="#a25dbb"/><rect x="121.17" width="3.61" height="40.4" fill="#a660bf"/><rect x="124.78" width="2.39" height="40.4" fill="#a25dbb"/><rect x="127.17" width="2.26" height="40.4" fill="#a662c0"/><rect x="129.43" width="2.55" height="40.4" fill="#a864c1"/><rect x="131.97" width="5.73" height="40.4" fill="#a25dbb"/><rect x="137.70" width="3.30" height="40.4" fill="#63b3e5"/><rect x="141.00" width="3.10" height="40.4" fill="#b07c8a"/><rect x="144.10" width="5.60" height="40.4" fill="#a55fbf"/><rect x="149.70" width="4.80" height="40.4" fill="#63b3e5"/><rect x="154.50" width="2.43" height="40.4" fill="#a661c0"/><rect x="156.93" width="3.90" height="40.4" fill="#a25dbb"/><rect x="160.83" width="2.43" height="40.4" fill="#a763c1"/><rect x="163.26" width="2.09" height="40.4" fill="#a662c0"/><rect x="165.35" width="1.65" height="40.4" fill="#a762c0"/><rect x="167.00" width="6.21" height="40.4" fill="#a3aad2"/><rect x="173.21" width="1.61" height="40.4" fill="#e4d4ee"/><rect x="174.82" width="3.48" height="40.4" fill="#a3aad2"/><rect x="178.30" width="2.01" height="40.4" fill="#a864c1"/><rect x="180.31" width="2.04" height="40.4" fill="#a660c0"/><rect x="182.36" width="4.01" height="40.4" fill="#a25dbb"/><rect x="186.37" width="2.18" height="40.4" fill="#a45fbe"/><rect x="188.55" width="3.17" height="40.4" fill="#a25dbb"/><rect x="191.72" width="2.69" height="40.4" fill="#a25dbc"/><rect x="194.41" width="2.15" height="40.4" fill="#a661c0"/><rect x="196.57" width="2.27" height="40.4" fill="#a15dba"/><rect x="198.84" width="4.51" height="40.4" fill="#a15cba"/><rect x="203.35" width="3.34" height="40.4" fill="#a864c1"/><rect x="206.69" width="4.60" height="40.4" fill="#9f5cb8"/><rect x="211.29" width="3.71" height="40.4" fill="#a25ebc"/><rect x="215.00" width="2.75" height="40.4" fill="#a25dbc"/><rect x="217.75" width="3.69" height="40.4" fill="#a15dba"/><rect x="221.44" width="2.97" height="40.4" fill="#a25dbc"/><rect x="224.42" width="3.34" height="40.4" fill="#a35ebd"/><rect x="227.75" width="7.25" height="40.4" fill="#a661c0"/><rect x="235.01" width="4.59" height="40.4" fill="#a660c0"/><rect x="239.60" width="3.04" height="40.4" fill="#a05cb9"/><rect x="242.64" width="4.89" height="40.4" fill="#a763c1"/><rect x="247.53" width="3.66" height="40.4" fill="#a45fbe"/><rect x="251.19" width="2.19" height="40.4" fill="#a35ebd"/><rect x="253.39" width="3.97" height="40.4" fill="#a45ebe"/><rect x="257.35" width="4.87" height="40.4" fill="#a660bf"/><rect x="262.23" width="2.92" height="40.4" fill="#a864c1"/><rect x="265.15" width="2.80" height="40.4" fill="#a55fbf"/><rect x="267.95" width="2.05" height="40.4" fill="#a661c0"/><rect x="270.00" width="2.33" height="40.4" fill="#8d87cf"/><rect x="272.33" width="1.24" height="40.4" fill="#9b9b9b"/><rect x="273.57" width="1.81" height="40.4" fill="#63b3e5"/><rect x="275.38" width="1.02" height="40.4" fill="#9b9b9b"/><rect x="276.40" width="8.07" height="40.4" fill="#63b3e5"/><rect x="284.47" width="1.20" height="40.4" fill="#8d87cf"/><rect x="285.68" width="2.11" height="40.4" fill="#63b3e5"/><rect x="287.78" width="1.23" height="40.4" fill="#9b9b9b"/><rect x="289.01" width="3.03" height="40.4" fill="#63b3e5"/><rect x="292.04" width="2.00" height="40.4" fill="#9b9b9b"/><rect x="294.04" width="1.60" height="40.4" fill="#8d87cf"/><rect x="295.64" width="3.34" height="40.4" fill="#63b3e5"/><rect x="298.98" width="2.60" height="40.4" fill="#9b9b9b"/><rect x="301.57" width="5.79" height="40.4" fill="#63b3e5"/><rect x="307.36" width="2.58" height="40.4" fill="#8d87cf"/><rect x="309.94" width="1.56" height="40.4" fill="#63b3e5"/><rect x="311.50" width="3.48" height="40.4" fill="#a55fbf"/><rect x="314.98" width="1.93" height="40.4" fill="#9b9b9b"/><rect x="316.91" width="1.09" height="40.4" fill="#a55fbf"/><rect x="318.00" width="4.73" height="40.4" fill="#9f5cb8"/><rect x="322.73" width="2.71" height="40.4" fill="#a05cb9"/><rect x="325.45" width="3.03" height="40.4" fill="#a15dba"/><rect x="328.48" width="6.34" height="40.4" fill="#a661c0"/><rect x="334.82" width="3.50" height="40.4" fill="#a45fbe"/><rect x="338.32" width="2.68" height="40.4" fill="#a660c0"/><rect x="341.00" width="3.55" height="40.4" fill="#63b3e5"/><rect x="344.55" width="1.27" height="40.4" fill="#69bfe2"/><rect x="345.81" width="3.51" height="40.4" fill="#63b3e5"/><rect x="349.32" width="2.22" height="40.4" fill="#69bfe2"/><rect x="351.55" width="2.62" height="40.4" fill="#63b3e5"/><rect x="354.17" width="8.23" height="40.4" fill="#69bfe2"/><rect x="362.40" width="3.70" height="40.4" fill="#62b1e2"/><rect x="366.10" width="3.16" height="40.4" fill="#60aedf"/><rect x="369.26" width="4.70" height="40.4" fill="#66b4e5"/><rect x="373.96" width="3.41" height="40.4" fill="#65b4e5"/><rect x="377.37" width="2.63" height="40.4" fill="#62b1e3"/><rect x="380.00" width="4.70" height="40.4" fill="#8d87cf"/><rect x="384.70" width="2.54" height="40.4" fill="#67b5e6"/><rect x="387.24" width="4.65" height="40.4" fill="#63b2e4"/><rect x="391.88" width="3.78" height="40.4" fill="#63b3e5"/><rect x="395.67" width="4.33" height="40.4" fill="#65b4e5"/><rect x="400.00" width="3.78" height="40.4" fill="#a661c0"/><rect x="403.78" width="3.42" height="40.4" fill="#a55fbf"/><rect x="407.20" width="4.80" height="40.4" fill="#63b3e5"/><rect x="412.00" width="4.00" height="40.4" fill="#c9a06c"/><rect x="416.00" width="5.68" height="40.4" fill="#63b3e5"/><rect x="421.68" width="1.27" height="40.4" fill="#b4aa7a"/><rect x="422.95" width="5.27" height="40.4" fill="#63b3e5"/><rect x="428.22" width="4.16" height="40.4" fill="#b4aa7a"/><rect x="432.38" width="4.22" height="40.4" fill="#63b3e5"/><rect x="436.60" width="3.40" height="40.4" fill="#b4aa7a"/><rect x="440.00" width="3.28" height="40.4" fill="#63b3e5"/><rect x="443.28" width="2.92" height="40.4" fill="#c9a06c"/><rect x="446.20" width="3.10" height="40.4" fill="#b4aa7a"/><rect x="449.30" width="4.55" height="40.4" fill="#63b3e5"/><rect x="453.85" width="2.07" height="40.4" fill="#8d87cf"/><rect x="455.93" width="3.80" height="40.4" fill="#63b3e5"/><rect x="459.73" width="2.39" height="40.4" fill="#b4aa7a"/><rect x="462.12" width="4.84" height="40.4" fill="#63b3e5"/><rect x="466.95" width="1.83" height="40.4" fill="#b4aa7a"/><rect x="468.78" width="6.01" height="40.4" fill="#63b3e5"/><rect x="474.79" width="1.91" height="40.4" fill="#b4aa7a"/><rect x="476.70" width="1.30" height="40.4" fill="#63b3e5"/><rect x="478.00" width="3.90" height="40.4" fill="#64b4e5"/><rect x="481.90" width="1.70" height="40.4" fill="#62b2e4"/><rect x="483.60" width="4.00" height="40.4" fill="#a55fbf"/><rect x="487.60" width="2.95" height="40.4" fill="#61b0e1"/><rect x="490.55" width="4.39" height="40.4" fill="#63b2e4"/><rect x="494.94" width="4.01" height="40.4" fill="#5faddd"/><rect x="498.95" width="4.79" height="40.4" fill="#62b1e2"/><rect x="503.74" width="4.10" height="40.4" fill="#65b4e5"/><rect x="507.84" width="2.97" height="40.4" fill="#62b1e3"/><rect x="510.81" width="2.19" height="40.4" fill="#60aede"/><rect x="513.00" width="4.52" height="40.4" fill="#a661c0"/><rect x="517.52" width="2.68" height="40.4" fill="#a660bf"/><rect x="520.20" width="3.20" height="40.4" fill="#b07c8a"/><rect x="523.40" width="2.36" height="40.4" fill="#a662c0"/><rect x="525.76" width="4.24" height="40.4" fill="#a762c0"/><rect x="530.00" width="8.44" height="40.4" fill="#a661c0"/><rect x="538.44" width="2.56" height="40.4" fill="#a45ebe"/><rect x="541.00" width="2.21" height="40.4" fill="#62b2e4"/><rect x="543.21" width="4.02" height="40.4" fill="#68b6e6"/><rect x="547.23" width="4.98" height="40.4" fill="#62b1e2"/><rect x="552.21" width="2.05" height="40.4" fill="#67b5e6"/><rect x="554.27" width="4.90" height="40.4" fill="#63b3e5"/><rect x="559.17" width="3.79" height="40.4" fill="#68b5e6"/><rect x="562.95" width="3.18" height="40.4" fill="#5facdc"/><rect x="566.13" width="4.20" height="40.4" fill="#60addd"/><rect x="570.33" width="4.42" height="40.4" fill="#66b4e5"/><rect x="574.74" width="1.96" height="40.4" fill="#62b1e3"/><rect x="576.70" width="2.41" height="40.4" fill="#63b3e5"/><rect x="579.11" width="2.39" height="40.4" fill="#8d87cf"/><rect x="581.50" width="2.43" height="40.4" fill="#a762c0"/><rect x="583.93" width="2.93" height="40.4" fill="#a05cb9"/><rect x="586.86" width="2.14" height="40.4" fill="#a25ebc"/><rect x="588.99" width="4.74" height="40.4" fill="#a55fbf"/><rect x="593.74" width="3.66" height="40.4" fill="#a662c0"/><rect x="597.40" width="2.68" height="40.4" fill="#5db9b0"/><rect x="600.08" width="1.32" height="40.4" fill="#9b9b9b"/><rect x="601.40" width="3.10" height="40.4" fill="#e8aa5c"/><rect x="604.50" width="2.50" height="40.4" fill="#63b3e5"/><rect x="607.00" width="5.58" height="40.4" fill="#a35ebd"/><rect x="612.58" width="4.96" height="40.4" fill="#a660c0"/><rect x="617.54" width="4.02" height="40.4" fill="#a661c0"/><rect x="621.57" width="3.15" height="40.4" fill="#a25dbb"/><rect x="624.72" width="4.19" height="40.4" fill="#a762c0"/><rect x="628.91" width="4.40" height="40.4" fill="#a763c1"/><rect x="633.30" width="7.15" height="40.4" fill="#a864c1"/><rect x="640.45" width="2.73" height="40.4" fill="#a45fbe"/><rect x="643.18" width="2.36" height="40.4" fill="#a55fbe"/><rect x="645.54" width="4.34" height="40.4" fill="#a55fbf"/><rect x="649.88" width="3.81" height="40.4" fill="#a15dba"/><rect x="653.68" width="2.96" height="40.4" fill="#a35ebc"/><rect x="656.64" width="4.19" height="40.4" fill="#a45ebd"/><rect x="660.83" width="2.67" height="40.4" fill="#a763c1"/><rect x="663.50" width="4.65" height="40.4" fill="#61b0e1"/><rect x="668.15" width="1.65" height="40.4" fill="#60adde"/><rect x="669.80" width="2.40" height="40.4" fill="#a55fbf"/><rect x="672.20" width="4.80" height="40.4" fill="#69bfe2"/><rect x="677.00" width="5.60" height="40.4" fill="#a45fbe"/><rect x="682.60" width="4.80" height="40.4" fill="#63b3e5"/><rect x="687.40" width="2.34" height="40.4" fill="#a863c1"/><rect x="689.74" width="3.24" height="40.4" fill="#a45fbe"/><rect x="692.99" width="2.72" height="40.4" fill="#a560bf"/><rect x="695.71" width="4.96" height="40.4" fill="#a661c0"/><rect x="700.66" width="3.46" height="40.4" fill="#a762c0"/><rect x="704.13" width="3.51" height="40.4" fill="#a05cb9"/><rect x="707.63" width="4.03" height="40.4" fill="#a662c0"/><rect x="711.66" width="2.45" height="40.4" fill="#a55fbf"/><rect x="714.11" width="3.49" height="40.4" fill="#a865c1"/><rect x="717.60" width="3.20" height="40.4" fill="#8d87cf"/><rect x="720.80" width="2.14" height="40.4" fill="#a15dbb"/><rect x="722.94" width="4.10" height="40.4" fill="#a35ebd"/><rect x="727.03" width="6.98" height="40.4" fill="#a55fbf"/><rect x="734.01" width="2.69" height="40.4" fill="#a25dbc"/><rect x="736.70" width="2.08" height="40.4" fill="#6cc0e3"/><rect x="738.78" width="2.32" height="40.4" fill="#6dc1e3"/><rect x="741.10" width="3.80" height="40.4" fill="#66badd"/><rect x="744.90" width="3.10" height="40.4" fill="#67bbde"/><rect x="748.00" width="4.60" height="40.4" fill="#63b3e5"/><rect x="752.60" width="1.60" height="40.4" fill="#b4aa7a"/><rect x="754.20" width="4.80" height="40.4" fill="#5db9b0"/><rect x="759.00" width="4.80" height="40.4" fill="#8d87cf"/><rect x="763.80" width="2.01" height="40.4" fill="#63b2e4"/><rect x="765.81" width="3.84" height="40.4" fill="#62b2e4"/><rect x="769.65" width="3.21" height="40.4" fill="#60aedf"/><rect x="772.87" width="2.75" height="40.4" fill="#66b4e5"/><rect x="775.61" width="3.68" height="40.4" fill="#65b4e5"/><rect x="779.30" width="3.70" height="40.4" fill="#61b0e1"/><rect x="783.00" width="2.30" height="40.4" fill="#a55fbf"/><rect x="785.30" width="5.72" height="40.4" fill="#63b3e5"/><rect x="791.02" width="1.32" height="40.4" fill="#a55fbf"/><rect x="792.34" width="2.66" height="40.4" fill="#63b3e5"/></svg>
<svg class="r" style="left:430px;top:477.10px" width="795" height="40.4"><rect x="0.00" width="4.00" height="40.4" fill="#8d87cf"/><rect x="4.00" width="4.80" height="40.4" fill="#a55fbf"/><rect x="8.80" width="2.30" height="40.4" fill="#b4aa7a"/><rect x="11.10" width="4.40" height="40.4" fill="#64b3e5"/><rect x="15.50" width="4.66" height="40.4" fill="#65b4e5"/><rect x="20.16" width="3.74" height="40.4" fill="#61afe0"/><rect x="23.90" width="3.55" height="40.4" fill="#9b9b9b"/><rect x="27.45" width="1.25" height="40.4" fill="#b4aa7a"/><rect x="28.70" width="3.90" height="40.4" fill="#c9a06c"/><rect x="32.60" width="3.34" height="40.4" fill="#61b0e1"/><rect x="35.94" width="3.06" height="40.4" fill="#5facdc"/><rect x="39.00" width="2.40" height="40.4" fill="#c9a06c"/><rect x="41.40" width="2.47" height="40.4" fill="#63b3e5"/><rect x="43.87" width="3.93" height="40.4" fill="#b4aa7a"/><rect x="47.80" width="4.83" height="40.4" fill="#64b4e5"/><rect x="52.63" width="2.88" height="40.4" fill="#61afe0"/><rect x="55.51" width="1.79" height="40.4" fill="#63b3e5"/><rect x="57.30" width="1.78" height="40.4" fill="#b07c8a"/><rect x="59.08" width="2.81" height="40.4" fill="#e8aa5c"/><rect x="61.89" width="1.81" height="40.4" fill="#b07c8a"/><rect x="63.70" width="4.56" height="40.4" fill="#a35ebd"/><rect x="68.26" width="8.13" height="40.4" fill="#a864c1"/><rect x="76.39" width="2.06" height="40.4" fill="#a863c1"/><rect x="78.45" width="3.37" height="40.4" fill="#a762c0"/><rect x="81.81" width="2.56" height="40.4" fill="#a864c1"/><rect x="84.37" width="2.59" height="40.4" fill="#a15dbb"/><rect x="86.96" width="3.09" height="40.4" fill="#a35ebd"/><rect x="90.05" width="2.52" height="40.4" fill="#a05cb9"/><rect x="92.57" width="4.96" height="40.4" fill="#a661c0"/><rect x="97.53" width="4.79" height="40.4" fill="#a864c1"/><rect x="102.32" width="3.68" height="40.4" fill="#a55fbf"/><rect x="106.00" width="4.60" height="40.4" fill="#66b5e6"/><rect x="110.60" width="4.40" height="40.4" fill="#61afe0"/><rect x="115.00" width="2.67" height="40.4" fill="#61b0e1"/><rect x="117.67" width="4.93" height="40.4" fill="#68b5e6"/><rect x="122.60" width="4.37" height="40.4" fill="#a55fbf"/><rect x="126.97" width="3.40" height="40.4" fill="#a762c0"/><rect x="130.37" width="2.94" height="40.4" fill="#a763c1"/><rect x="133.31" width="4.39" height="40.4" fill="#9f5cb8"/><rect x="137.70" width="6.40" height="40.4" fill="#63b3e5"/><rect x="144.10" width="3.77" height="40.4" fill="#a15dba"/><rect x="147.87" width="2.63" height="40.4" fill="#a763c1"/><rect x="150.50" width="2.59" height="40.4" fill="#63b3e5"/><rect x="153.09" width="2.37" height="40.4" fill="#a55fbf"/><rect x="155.46" width="2.10" height="40.4" fill="#8d87cf"/><rect x="157.56" width="1.65" height="40.4" fill="#63b3e5"/><rect x="159.20" width="2.25" height="40.4" fill="#8d87cf"/><rect x="161.45" width="4.15" height="40.4" fill="#63b3e5"/><rect x="165.60" width="2.40" height="40.4" fill="#8d87cf"/><rect x="168.00" width="4.00" height="40.4" fill="#a55fbf"/><rect x="172.00" width="4.80" height="40.4" fill="#ffffff"/><rect x="176.80" width="3.43" height="40.4" fill="#a25dbb"/><rect x="180.23" width="4.47" height="40.4" fill="#a25dbc"/><rect x="184.70" width="3.28" height="40.4" fill="#60aede"/><rect x="187.98" width="2.32" height="40.4" fill="#64b3e5"/><rect x="190.30" width="3.23" height="40.4" fill="#a763c1"/><rect x="193.53" width="2.45" height="40.4" fill="#a05cb9"/><rect x="195.98" width="2.31" height="40.4" fill="#a660c0"/><rect x="198.30" width="7.20" height="40.4" fill="#a55fbf"/><rect x="205.50" width="3.73" height="40.4" fill="#a25dbb"/><rect x="209.23" width="4.16" height="40.4" fill="#a45fbe"/><rect x="213.40" width="2.81" height="40.4" fill="#a864c1"/><rect x="216.21" width="2.16" height="40.4" fill="#9f5cb8"/><rect x="218.37" width="2.76" height="40.4" fill="#a763c1"/><rect x="221.13" width="4.82" height="40.4" fill="#a662c0"/><rect x="225.95" width="3.71" height="40.4" fill="#a35ebc"/><rect x="229.65" width="2.90" height="40.4" fill="#a45ebe"/><rect x="232.56" width="2.03" height="40.4" fill="#a55fbf"/><rect x="234.59" width="4.13" height="40.4" fill="#a864c1"/><rect x="238.71" width="6.74" height="40.4" fill="#a45ebe"/><rect x="245.46" width="3.53" height="40.4" fill="#a661c0"/><rect x="248.99" width="4.83" height="40.4" fill="#9f5cb9"/><rect x="253.81" width="2.20" height="40.4" fill="#a864c1"/><rect x="256.01" width="4.33" height="40.4" fill="#a762c0"/><rect x="260.34" width="3.02" height="40.4" fill="#a25dbc"/><rect x="263.36" width="2.50" height="40.4" fill="#a864c1"/><rect x="265.86" width="3.44" height="40.4" fill="#9f5cb8"/><rect x="269.30" width="4.70" height="40.4" fill="#ffffff"/><rect x="274.00" width="2.76" height="40.4" fill="#62b1e3"/><rect x="276.76" width="2.02" height="40.4" fill="#67b5e6"/><rect x="278.79" width="2.30" height="40.4" fill="#68b5e6"/><rect x="281.09" width="3.21" height="40.4" fill="#66b5e6"/><rect x="284.30" width="2.05" height="40.4" fill="#60addd"/><rect x="286.35" width="2.85" height="40.4" fill="#68b6e6"/><rect x="289.20" width="3.20" height="40.4" fill="#c9a06c"/><rect x="292.40" width="3.24" height="40.4" fill="#63b3e5"/><rect x="295.64" width="1.46" height="40.4" fill="#9b9b9b"/><rect x="297.10" width="2.40" height="40.4" fill="#b4aa7a"/><rect x="299.50" width="3.03" height="40.4" fill="#65b4e5"/><rect x="302.53" width="4.17" height="40.4" fill="#61afdf"/><rect x="306.70" width="2.30" height="40.4" fill="#8d87cf"/><rect x="309.00" width="2.50" height="40.4" fill="#c9a06c"/><rect x="311.50" width="5.03" height="40.4" fill="#63b3e5"/><rect x="316.53" width="5.15" height="40.4" fill="#b4aa7a"/><rect x="321.69" width="9.79" height="40.4" fill="#63b3e5"/><rect x="331.48" width="1.52" height="40.4" fill="#b4aa7a"/><rect x="333.00" width="2.30" height="40.4" fill="#c9a06c"/><rect x="335.30" width="3.20" height="40.4" fill="#63b3e5"/><rect x="338.50" width="1.99" height="40.4" fill="#ffffff"/><rect x="340.49" width="2.55" height="40.4" fill="#8d87cf"/><rect x="343.03" width="1.97" height="40.4" fill="#ffffff"/><rect x="345.00" width="1.95" height="40.4" fill="#63b3e5"/><rect x="346.95" width="1.05" height="40.4" fill="#8d87cf"/><rect x="348.00" width="2.19" height="40.4" fill="#ffffff"/><rect x="350.19" width="4.31" height="40.4" fill="#8d87cf"/><rect x="354.50" width="4.70" height="40.4" fill="#63b3e5"/><rect x="359.20" width="2.40" height="40.4" fill="#b07c8a"/><rect x="361.60" width="16.28" height="40.4" fill="#63b3e5"/><rect x="377.88" width="2.63" height="40.4" fill="#b4aa7a"/><rect x="380.51" width="8.41" height="40.4" fill="#63b3e5"/><rect x="388.92" width="1.53" height="40.4" fill="#b4aa7a"/><rect x="390.45" width="9.55" height="40.4" fill="#63b3e5"/><rect x="400.00" width="5.60" height="40.4" fill="#62b1e3"/><rect x="405.60" width="2.40" height="40.4" fill="#c9a06c"/><rect x="408.00" width="4.54" height="40.4" fill="#9f5cb9"/><rect x="412.54" width="2.68" height="40.4" fill="#a35ebc"/><rect x="415.22" width="2.13" height="40.4" fill="#a15dba"/><rect x="417.35" width="3.86" height="40.4" fill="#a05cb9"/><rect x="421.21" width="3.46" height="40.4" fill="#a763c0"/><rect x="424.67" width="4.03" height="40.4" fill="#a864c1"/><rect x="428.70" width="3.46" height="40.4" fill="#60aedf"/><rect x="432.16" width="2.68" height="40.4" fill="#66b5e6"/><rect x="434.85" width="1.75" height="40.4" fill="#60aedf"/><rect x="436.60" width="2.27" height="40.4" fill="#8d87cf"/><rect x="438.87" width="8.13" height="40.4" fill="#63b3e5"/><rect x="447.00" width="3.70" height="40.4" fill="#9f5bb8"/><rect x="450.70" width="2.03" height="40.4" fill="#a45ebe"/><rect x="452.73" width="2.90" height="40.4" fill="#a762c0"/><rect x="455.63" width="6.27" height="40.4" fill="#a35ebd"/><rect x="461.90" width="2.55" height="40.4" fill="#a25dbb"/><rect x="464.45" width="3.08" height="40.4" fill="#a661c0"/><rect x="467.53" width="3.12" height="40.4" fill="#a55fbf"/><rect x="470.65" width="4.15" height="40.4" fill="#a45ebe"/><rect x="474.80" width="1.94" height="40.4" fill="#8d87cf"/><rect x="476.74" width="1.26" height="40.4" fill="#ffffff"/><rect x="478.00" width="1.60" height="40.4" fill="#a55fbf"/><rect x="479.60" width="3.19" height="40.4" fill="#60aede"/><rect x="482.79" width="2.61" height="40.4" fill="#67b5e6"/><rect x="485.40" width="3.31" height="40.4" fill="#68b5e6"/><rect x="488.71" width="2.89" height="40.4" fill="#62b1e3"/><rect x="491.60" width="2.28" height="40.4" fill="#8d87cf"/><rect x="493.88" width="6.42" height="40.4" fill="#63b3e5"/><rect x="500.30" width="3.20" height="40.4" fill="#c9a06c"/><rect x="503.50" width="3.20" height="40.4" fill="#63b3e5"/><rect x="506.70" width="3.20" height="40.4" fill="#b4aa7a"/><rect x="509.90" width="4.00" height="40.4" fill="#63b3e5"/><rect x="513.90" width="3.97" height="40.4" fill="#a15dba"/><rect x="517.87" width="3.38" height="40.4" fill="#a45ebe"/><rect x="521.25" width="2.78" height="40.4" fill="#a864c1"/><rect x="524.03" width="3.45" height="40.4" fill="#a661c0"/><rect x="527.48" width="3.29" height="40.4" fill="#a35ebd"/><rect x="530.78" width="4.24" height="40.4" fill="#a660c0"/><rect x="535.02" width="1.98" height="40.4" fill="#a864c1"/><rect x="537.00" width="3.00" height="40.4" fill="#e6c45e"/><rect x="540.00" width="5.00" height="40.4" fill="#ffffff"/><rect x="545.00" width="3.10" height="40.4" fill="#63b3e5"/><rect x="548.10" width="3.36" height="40.4" fill="#8d87cf"/><rect x="551.45" width="1.45" height="40.4" fill="#63b3e5"/><rect x="552.90" width="1.60" height="40.4" fill="#b4aa7a"/><rect x="554.50" width="8.54" height="40.4" fill="#5facdc"/><rect x="563.04" width="4.55" height="40.4" fill="#63b2e4"/><rect x="567.59" width="3.86" height="40.4" fill="#62b2e4"/><rect x="571.45" width="2.45" height="40.4" fill="#61b0e1"/><rect x="573.90" width="3.90" height="40.4" fill="#60addd"/><rect x="577.80" width="3.70" height="40.4" fill="#60adde"/><rect x="581.50" width="2.40" height="40.4" fill="#c9a06c"/><rect x="583.90" width="3.10" height="40.4" fill="#b07c8a"/><rect x="587.00" width="3.42" height="40.4" fill="#d66a5b"/><rect x="590.42" width="3.28" height="40.4" fill="#d96d5e"/><rect x="593.70" width="2.30" height="40.4" fill="#d56a5b"/><rect x="596.00" width="3.00" height="40.4" fill="#c9a06c"/><rect x="599.00" width="2.00" height="40.4" fill="#e6c45e"/><rect x="601.00" width="2.01" height="40.4" fill="#ffffff"/><rect x="603.01" width="5.49" height="40.4" fill="#8d87cf"/><rect x="608.50" width="4.80" height="40.4" fill="#e6c45e"/><rect x="613.30" width="7.20" height="40.4" fill="#ffffff"/><rect x="620.50" width="2.55" height="40.4" fill="#a35ebc"/><rect x="623.05" width="2.42" height="40.4" fill="#a864c1"/><rect x="625.47" width="2.13" height="40.4" fill="#a05cb9"/><rect x="627.60" width="6.40" height="40.4" fill="#ffffff"/><rect x="634.00" width="3.20" height="40.4" fill="#f3e2c4"/><rect x="637.20" width="2.18" height="40.4" fill="#8d87cf"/><rect x="639.38" width="1.82" height="40.4" fill="#e4d4ee"/><rect x="641.20" width="4.00" height="40.4" fill="#f3e2c4"/><rect x="645.20" width="3.10" height="40.4" fill="#9b9b9b"/><rect x="648.30" width="3.37" height="40.4" fill="#d97061"/><rect x="651.67" width="2.34" height="40.4" fill="#d96f60"/><rect x="654.01" width="4.23" height="40.4" fill="#d4695a"/><rect x="658.24" width="2.76" height="40.4" fill="#d97062"/><rect x="661.00" width="3.20" height="40.4" fill="#b07c8a"/><rect x="664.20" width="2.56" height="40.4" fill="#d97061"/><rect x="666.76" width="10.24" height="40.4" fill="#d16759"/><rect x="677.00" width="6.80" height="40.4" fill="#a55fbf"/><rect x="683.80" width="2.00" height="40.4" fill="#e4d4ee"/><rect x="685.80" width="5.53" height="40.4" fill="#d86c5d"/><rect x="691.33" width="2.40" height="40.4" fill="#d96f60"/><rect x="693.73" width="4.38" height="40.4" fill="#d86c5d"/><rect x="698.11" width="4.97" height="40.4" fill="#d86b5c"/><rect x="703.08" width="4.56" height="40.4" fill="#d4695a"/><rect x="707.64" width="3.84" height="40.4" fill="#d76b5c"/><rect x="711.48" width="4.87" height="40.4" fill="#d76a5b"/><rect x="716.35" width="2.64" height="40.4" fill="#d66a5b"/><rect x="718.98" width="2.96" height="40.4" fill="#d4695a"/><rect x="721.94" width="3.79" height="40.4" fill="#d86c5e"/><rect x="725.73" width="4.53" height="40.4" fill="#d96e5f"/><rect x="730.26" width="4.90" height="40.4" fill="#d76b5c"/><rect x="735.17" width="3.15" height="40.4" fill="#d86c5e"/><rect x="738.31" width="4.60" height="40.4" fill="#d06759"/><rect x="742.91" width="2.69" height="40.4" fill="#d86b5c"/><rect x="745.60" width="4.62" height="40.4" fill="#d56a5b"/><rect x="750.21" width="1.79" height="40.4" fill="#d66a5b"/><rect x="752.00" width="3.30" height="40.4" fill="#a55fbf"/><rect x="755.30" width="2.10" height="40.4" fill="#9b9b9b"/><rect x="757.40" width="4.42" height="40.4" fill="#d06759"/><rect x="761.82" width="3.36" height="40.4" fill="#d96f61"/><rect x="765.17" width="3.29" height="40.4" fill="#d26859"/><rect x="768.46" width="3.24" height="40.4" fill="#d96f61"/><rect x="771.70" width="3.78" height="40.4" fill="#d96e5f"/><rect x="775.48" width="3.10" height="40.4" fill="#d97061"/><rect x="778.59" width="3.89" height="40.4" fill="#d66a5b"/><rect x="782.48" width="3.45" height="40.4" fill="#d16859"/><rect x="785.93" width="3.64" height="40.4" fill="#d76a5b"/><rect x="789.57" width="2.91" height="40.4" fill="#d4695a"/><rect x="792.48" width="2.52" height="40.4" fill="#cf6758"/></svg>
<div class="r" style="left:654.3px;top:113px;width:330.70000000000005px;height:407px;background:rgba(142,155,215,0.3);"></div>
<div class="r" style="left:1225px;top:113px;width:26px;height:407px;background:#f1f1f1;"></div>
<div class="r" style="left:1225px;top:113px;width:26px;height:27px;background:linear-gradient(#d3d4d7,#e4e5e7 10px,#f1f1f1 24px);"></div>
<div class="r" style="left:1228.8px;top:139px;width:18.600000000000136px;height:51px;background:#c1c1c1;"></div>
<svg class="r" style="left:1225px;top:113px" width="26" height="407"><path d="M6.5 17 L13 10 L19.5 17Z" fill="#a3a3a3"/><path d="M6.8 390 L13 397 L19.2 390Z" fill="#505050"/></svg>
<div class="r" style="left:3px;top:520px;width:1248px;height:45px;background:#f1f1f1;"></div>
<div class="r" style="left:3px;top:520px;width:1248px;height:2px;background:#d5d5d5;"></div>
<div class="r" style="left:3px;top:563.5px;width:1248px;height:2.0px;background:#d3d3d3;"></div>
<div class="r" style="left:53.7px;top:526.5px;width:178.5px;height:40px;background:#fff;border-radius:5px 5px 0 0;box-shadow:0 0 4px rgba(0,0,0,0.35)"></div>
<div class="r" style="left:53.7px;top:563px;width:178.5px;height:4px;background:#fff;"></div>
<div class="t" style="left:68.70px;top:533.53px;font-size:23.26px;color:#3f4a5a;transform:scaleX(0.8327);">Current Selection</div>
<svg class="r" style="left:18px;top:525px" width="20" height="34"><circle cx="8.8" cy="6.7" r="3.3" fill="#111"/><circle cx="8.8" cy="17.1" r="3.3" fill="#111"/><circle cx="8.8" cy="27.3" r="3.3" fill="#111"/></svg>
<svg class="r" style="left:1165px;top:520px" width="86" height="45"><rect x="7.3" y="6.8" width="27.3" height="2.9" fill="#111"/><path d="M20.9 37 L20.9 14.5 M13.5 22.3 L20.9 14.8 L28.4 22.3" fill="none" stroke="#111" stroke-width="2.9"/><path d="M52.5 16 L62 25.5 L71.5 16" fill="none" stroke="#222" stroke-width="2.8"/></svg>
<div class="r" style="left:3px;top:565.5px;width:1248px;height:62.5px;background:#fff;"></div>
<div class="t" style="left:16.80px;top:581.14px;font-size:31.25px;color:#1f1f1f;transform:scaleX(0.8576);-webkit-text-stroke:0.35px #1f1f1f;">Area Selection</div>
<div class="t" style="left:217.20px;top:587.31px;font-size:23.98px;color:#2b2b2b;transform:scaleX(0.8342);-webkit-text-stroke:0.25px #2b2b2b;">CPU by thread</div>
<div class="t" style="left:380.60px;top:587.31px;font-size:23.98px;color:#2b2b2b;transform:scaleX(0.8397);-webkit-text-stroke:0.25px #2b2b2b;">CPU by process</div>
<div class="r" style="left:539.5px;top:577.3px;width:203.3px;height:40.7px;box-sizing:border-box;border:4.6px solid #e54d26;background:#dedede;box-shadow:1px 2px 3px rgba(0,0,0,0.25)"></div>
<div class="t" style="left:559.30px;top:587.21px;font-size:23.98px;color:#1f1f1f;transform:scaleX(0.8736);-webkit-text-stroke:0.25px #1f1f1f;">Wattson by thread</div>
<div class="t" style="left:761.30px;top:587.31px;font-size:23.98px;color:#2b2b2b;transform:scaleX(0.8773);-webkit-text-stroke:0.25px #2b2b2b;">Wattson by process</div>
<div class="t" style="left:977.60px;top:587.31px;font-size:23.98px;color:#2b2b2b;transform:scaleX(0.8691);-webkit-text-stroke:0.25px #2b2b2b;">Wattson by package</div>
<div class="t" style="left:1198.40px;top:587.31px;font-size:23.98px;color:#2b2b2b;transform:scaleX(0.8096);-webkit-text-stroke:0.25px #2b2b2b;">Piv</div>
<div class="r" style="left:3px;top:627.3px;width:1248px;height:1.400000000000091px;background:#d0d0d0;"></div>
<div class="t" style="left:925.90px;top:639.94px;font-size:18.90px;color:#5f6673;transform:scaleX(0.8610);">Selected range:</div>
<div class="t" style="left:1044.40px;top:639.94px;font-size:18.90px;color:#5a6a9a;transform:scaleX(0.8800);">4s 584ms 160us 453ns</div>
<div class="r" style="left:1044.4px;top:657.5px;width:172px;height:0;border-top:1.5px dotted #6a78a8"></div>
<div class="t" style="left:26.30px;top:667.00px;font-size:24.71px;color:#4e5766;transform:scaleX(0.8305);">Thread Name</div>
<div class="t" style="left:262.70px;top:667.00px;font-size:24.71px;color:#4e5766;transform:scaleX(0.7688);">TID</div>
<div class="t" style="left:499.50px;top:667.00px;font-size:24.71px;color:#4e5766;transform:scaleX(0.7646);">PID</div>
<div class="t" style="left:736.70px;top:667.93px;font-size:23.26px;color:#4e5766;transform:scaleX(0.8989);">Average estimated</div>
<div class="t" style="left:736.70px;top:697.63px;font-size:23.26px;color:#4e5766;transform:scaleX(0.8926);">power (mW)</div>
<div class="t" style="left:974.80px;top:667.93px;font-size:23.26px;color:#4e5766;transform:scaleX(0.9094);">Total estimated energy</div>
<div class="t" style="left:974.80px;top:697.63px;font-size:23.26px;color:#4e5766;transform:scaleX(0.8772);">(mWs)</div>
<div class="r" style="left:728.5px;top:732px;width:75.8px;height:32.7px;box-sizing:border-box;border:4.6px solid #e54d26;"></div>
<div class="r" style="left:961.5px;top:731.1px;width:84.2px;height:34.8px;box-sizing:border-box;border:4.6px solid #e54d26;"></div>
<div class="t" style="left:737.40px;top:738.49px;font-size:21.08px;color:#4a5260;transform:scaleX(0.8428);">122.02</div>
<div class="t" style="left:974.50px;top:738.49px;font-size:21.08px;color:#4a5260;transform:scaleX(0.8521);">559.65</div>
<div class="r" style="left:734.5px;top:765.8px;width:470.0px;height:1.400000000000091px;background:#8a93a3;"></div>
<div class="r" style="left:0;top:0;width:1256px;height:1102.2px;overflow:hidden">
<div class="t" style="left:25.70px;top:787.09px;font-size:24.13px;color:#616874;transform:scaleX(0.8469);-webkit-text-stroke:0.4px #fff;">swapper</div>
<div class="t" style="left:262.50px;top:787.09px;font-size:24.13px;color:#616874;transform:scaleX(0.8469);-webkit-text-stroke:0.4px #fff;">0</div>
<div class="t" style="left:499.50px;top:787.09px;font-size:24.13px;color:#616874;transform:scaleX(0.8469);-webkit-text-stroke:0.4px #fff;">0</div>
<div class="t" style="left:736.70px;top:787.09px;font-size:24.13px;color:#616874;transform:scaleX(0.8469);-webkit-text-stroke:0.4px #fff;">39.1</div>
<div class="t" style="left:974.50px;top:787.09px;font-size:24.13px;color:#616874;transform:scaleX(0.8469);-webkit-text-stroke:0.4px #fff;">179.24</div>
<div class="t" style="left:25.70px;top:824.59px;font-size:24.13px;color:#616874;transform:scaleX(0.8469);-webkit-text-stroke:0.4px #fff;">CachedAppOptimi</div>
<div class="t" style="left:262.50px;top:824.59px;font-size:24.13px;color:#616874;transform:scaleX(0.8469);-webkit-text-stroke:0.4px #fff;">1727</div>
<div class="t" style="left:499.50px;top:824.59px;font-size:24.13px;color:#616874;transform:scaleX(0.8469);-webkit-text-stroke:0.4px #fff;">1238</div>
<div class="t" style="left:736.70px;top:824.59px;font-size:24.13px;color:#616874;transform:scaleX(0.8469);-webkit-text-stroke:0.4px #fff;">11.94</div>
<div class="t" style="left:974.50px;top:824.59px;font-size:24.13px;color:#616874;transform:scaleX(0.8469);-webkit-text-stroke:0.4px #fff;">54.74</div>
<div class="t" style="left:25.70px;top:862.09px;font-size:24.13px;color:#616874;transform:scaleX(0.8469);-webkit-text-stroke:0.4px #fff;">RenderThread</div>
<div class="t" style="left:262.50px;top:862.09px;font-size:24.13px;color:#616874;transform:scaleX(0.8469);-webkit-text-stroke:0.4px #fff;">9019</div>
<div class="t" style="left:499.50px;top:862.09px;font-size:24.13px;color:#616874;transform:scaleX(0.8469);-webkit-text-stroke:0.4px #fff;">9005</div>
<div class="t" style="left:736.70px;top:862.09px;font-size:24.13px;color:#616874;transform:scaleX(0.8469);-webkit-text-stroke:0.4px #fff;">11.69</div>
<div class="t" style="left:974.50px;top:862.09px;font-size:24.13px;color:#616874;transform:scaleX(0.8469);-webkit-text-stroke:0.4px #fff;">53.57</div>
<div class="t" style="left:25.70px;top:899.59px;font-size:24.13px;color:#616874;transform:scaleX(0.8469);-webkit-text-stroke:0.4px #fff;">surfaceflinger</div>
<div class="t" style="left:262.50px;top:899.59px;font-size:24.13px;color:#616874;transform:scaleX(0.8469);-webkit-text-stroke:0.4px #fff;">492</div>
<div class="t" style="left:499.50px;top:899.59px;font-size:24.13px;color:#616874;transform:scaleX(0.8469);-webkit-text-stroke:0.4px #fff;">492</div>
<div class="t" style="left:736.70px;top:899.59px;font-size:24.13px;color:#616874;transform:scaleX(0.8469);-webkit-text-stroke:0.4px #fff;">9.12</div>
<div class="t" style="left:974.50px;top:899.59px;font-size:24.13px;color:#616874;transform:scaleX(0.8469);-webkit-text-stroke:0.4px #fff;">41.79</div>
<div class="t" style="left:25.70px;top:937.09px;font-size:24.13px;color:#616874;transform:scaleX(0.8469);-webkit-text-stroke:0.4px #fff;">HwBinder:494_2</div>
<div class="t" style="left:262.50px;top:937.09px;font-size:24.13px;color:#616874;transform:scaleX(0.8469);-webkit-text-stroke:0.4px #fff;">547</div>
<div class="t" style="left:499.50px;top:937.09px;font-size:24.13px;color:#616874;transform:scaleX(0.8469);-webkit-text-stroke:0.4px #fff;">494</div>
<div class="t" style="left:736.70px;top:937.09px;font-size:24.13px;color:#616874;transform:scaleX(0.8469);-webkit-text-stroke:0.4px #fff;">6.57</div>
<div class="t" style="left:974.50px;top:937.09px;font-size:24.13px;color:#616874;transform:scaleX(0.8469);-webkit-text-stroke:0.4px #fff;">30.13</div>
<div class="t" style="left:25.70px;top:974.59px;font-size:24.13px;color:#616874;transform:scaleX(0.8469);-webkit-text-stroke:0.4px #fff;">ed.touchlatency</div>
<div class="t" style="left:262.50px;top:974.59px;font-size:24.13px;color:#616874;transform:scaleX(0.8469);-webkit-text-stroke:0.4px #fff;">9005</div>
<div class="t" style="left:499.50px;top:974.59px;font-size:24.13px;color:#616874;transform:scaleX(0.8469);-webkit-text-stroke:0.4px #fff;">9005</div>
<div class="t" style="left:736.70px;top:974.59px;font-size:24.13px;color:#616874;transform:scaleX(0.8469);-webkit-text-stroke:0.4px #fff;">4.5</div>
<div class="t" style="left:974.50px;top:974.59px;font-size:24.13px;color:#616874;transform:scaleX(0.8469);-webkit-text-stroke:0.4px #fff;">20.61</div>
<div class="t" style="left:25.70px;top:1012.09px;font-size:24.13px;color:#616874;transform:scaleX(0.8469);-webkit-text-stroke:0.4px #fff;">mali-cmar-backe</div>
<div class="t" style="left:262.50px;top:1012.09px;font-size:24.13px;color:#616874;transform:scaleX(0.8469);-webkit-text-stroke:0.4px #fff;">9030</div>
<div class="t" style="left:499.50px;top:1012.09px;font-size:24.13px;color:#616874;transform:scaleX(0.8469);-webkit-text-stroke:0.4px #fff;">9005</div>
<div class="t" style="left:736.70px;top:1012.09px;font-size:24.13px;color:#616874;transform:scaleX(0.8469);-webkit-text-stroke:0.4px #fff;">3.24</div>
<div class="t" style="left:974.50px;top:1012.09px;font-size:24.13px;color:#616874;transform:scaleX(0.8469);-webkit-text-stroke:0.4px #fff;">14.84</div>
<div class="t" style="left:25.70px;top:1049.59px;font-size:24.13px;color:#616874;transform:scaleX(0.8469);-webkit-text-stroke:0.4px #fff;">decon0_kthread</div>
<div class="t" style="left:262.50px;top:1049.59px;font-size:24.13px;color:#616874;transform:scaleX(0.8469);-webkit-text-stroke:0.4px #fff;">260</div>
<div class="t" style="left:499.50px;top:1049.59px;font-size:24.13px;color:#616874;transform:scaleX(0.8469);-webkit-text-stroke:0.4px #fff;">260</div>
<div class="t" style="left:736.70px;top:1049.59px;font-size:24.13px;color:#616874;transform:scaleX(0.8469);-webkit-text-stroke:0.4px #fff;">2.59</div>
<div class="t" style="left:974.50px;top:1049.59px;font-size:24.13px;color:#616874;transform:scaleX(0.8469);-webkit-text-stroke:0.4px #fff;">11.87</div>
<div class="t" style="left:25.70px;top:1087.09px;font-size:24.13px;color:#616874;transform:scaleX(0.8469);-webkit-text-stroke:0.4px #fff;">mali_id_thread</div>
<div class="t" style="left:262.50px;top:1087.09px;font-size:24.13px;color:#616874;transform:scaleX(0.8469);-webkit-text-stroke:0.4px #fff;">295</div>
<div class="t" style="left:499.50px;top:1087.09px;font-size:24.13px;color:#616874;transform:scaleX(0.8469);-webkit-text-stroke:0.4px #fff;">295</div>
<div class="t" style="left:736.70px;top:1087.09px;font-size:24.13px;color:#616874;transform:scaleX(0.8469);-webkit-text-stroke:0.4px #fff;">2.37</div>
<div class="t" style="left:974.50px;top:1087.09px;font-size:24.13px;color:#616874;transform:scaleX(0.8469);-webkit-text-stroke:0.4px #fff;">10.85</div>
</div>
<div class="r" style="left:1225.8px;top:628.7px;width:25.200000000000045px;height:473.5999999999999px;background:#f1f1f1;"></div>
<div class="r" style="left:1229.8px;top:655.4px;width:17.100000000000136px;height:125.10000000000002px;background:#c1c1c1;"></div>
<svg class="r" style="left:1225.8px;top:628.7px" width="26" height="26"><path d="M6.6 17 L12.7 10.5 L18.8 17Z" fill="#a3a3a3"/></svg>
</body></html>
